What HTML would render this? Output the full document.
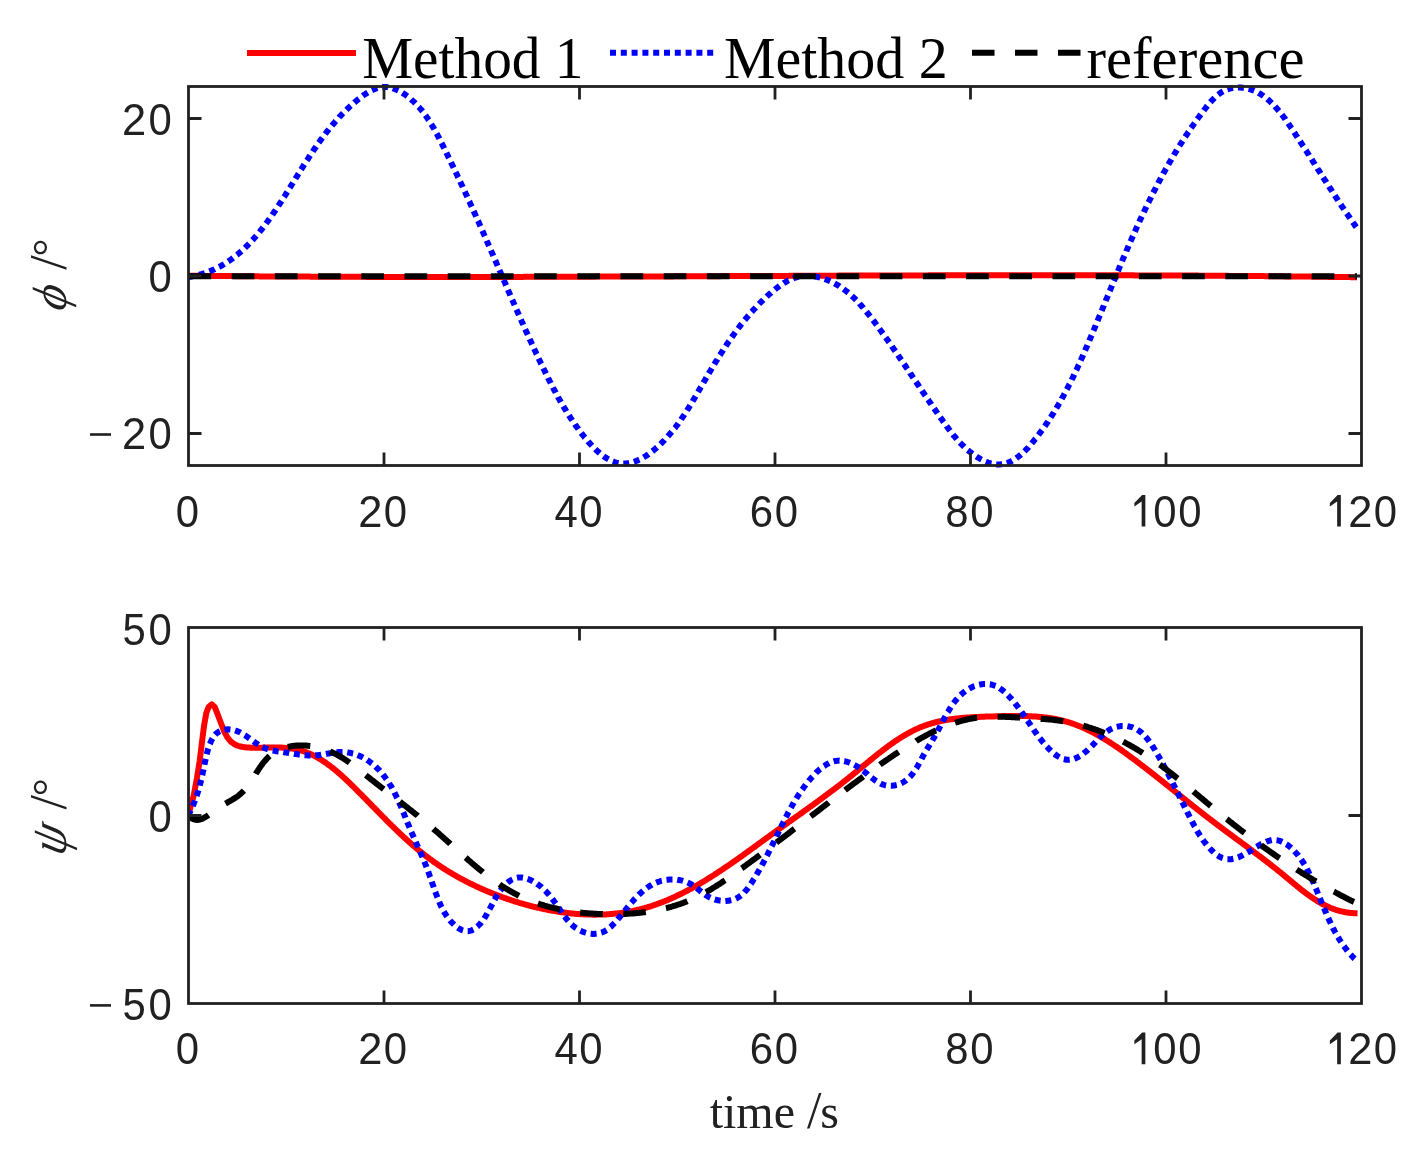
<!DOCTYPE html>
<html><head><meta charset="utf-8"><style>
html,body{margin:0;padding:0;background:#fff;overflow:hidden}
svg{display:block;will-change:transform}
.tk{font-family:"Liberation Sans",sans-serif;font-size:44.8px;fill:#212121}
.lab{font-family:"Liberation Serif",serif;font-size:48px;fill:#212121}
.leg{font-family:"Liberation Serif",serif;font-size:59.2px;fill:#000}
</style></head><body>
<svg width="1424" height="1149" viewBox="0 0 1424 1149">
<rect width="1424" height="1149" fill="#fff"/>
<clipPath id="ct"><rect x="188.5" y="83.5" width="1173.0" height="385.0"/></clipPath>
<clipPath id="cb"><rect x="188.5" y="624.5" width="1173.0" height="382.0"/></clipPath>
<path d="M188.5,275.7L189.5,275.7L190.5,275.7L191.5,275.8L192.5,275.8L193.5,275.8L194.5,275.8L195.5,275.8L196.5,275.8L197.5,275.8L198.5,275.8L199.5,275.8L200.5,275.9L201.5,275.9L202.5,275.9L203.5,275.9L204.5,275.9L205.5,275.9L206.5,275.9L207.5,275.9L208.5,275.9L209.5,275.9L210.5,275.9L211.5,276.0L212.5,276.0L213.5,276.0L214.5,276.0L215.5,276.0L216.5,276.0L217.5,276.0L218.5,276.0L219.5,276.0L220.5,276.0L221.5,276.1L222.5,276.1L223.5,276.1L224.5,276.1L225.6,276.1L226.6,276.1L227.6,276.1L228.6,276.1L229.6,276.1L230.6,276.1L231.6,276.1L232.6,276.1L233.6,276.2L234.6,276.2L235.6,276.2L236.6,276.2L237.6,276.2L238.6,276.2L239.6,276.2L240.6,276.2L241.6,276.2L242.6,276.2L243.6,276.2L244.6,276.2L245.6,276.2L246.6,276.3L247.6,276.3L248.6,276.3L249.6,276.3L250.6,276.3L251.6,276.3L252.6,276.3L253.6,276.3L254.6,276.3L255.6,276.3L256.6,276.3L257.6,276.3L258.6,276.3L259.6,276.4L260.6,276.4L261.6,276.4L262.6,276.4L263.6,276.4L264.6,276.4L265.6,276.4L266.6,276.4L267.6,276.4L268.6,276.4L269.6,276.4L270.6,276.4L271.6,276.4L272.6,276.4L273.6,276.4L274.6,276.5L275.6,276.5L276.6,276.5L277.6,276.5L278.6,276.5L279.6,276.5L280.6,276.5L281.6,276.5L282.6,276.5L283.6,276.5L284.6,276.5L285.6,276.5L286.6,276.5L287.6,276.5L288.6,276.5L289.6,276.5L290.6,276.5L291.6,276.6L292.6,276.6L293.6,276.6L294.6,276.6L295.6,276.6L296.6,276.6L297.6,276.6L298.6,276.6L299.6,276.6L300.6,276.6L301.6,276.6L302.6,276.6L303.6,276.6L304.7,276.6L305.7,276.6L306.7,276.6L307.7,276.6L308.7,276.6L309.7,276.6L310.7,276.7L311.7,276.7L312.7,276.7L313.7,276.7L314.7,276.7L315.7,276.7L316.7,276.7L317.7,276.7L318.7,276.7L319.7,276.7L320.7,276.7L321.7,276.7L322.7,276.7L323.7,276.7L324.7,276.7L325.7,276.7L326.7,276.7L327.7,276.7L328.7,276.7L329.7,276.7L330.7,276.7L331.7,276.7L332.7,276.7L333.7,276.7L334.7,276.8L335.7,276.8L336.7,276.8L337.7,276.8L338.7,276.8L339.7,276.8L340.7,276.8L341.7,276.8L342.7,276.8L343.7,276.8L344.7,276.8L345.7,276.8L346.7,276.8L347.7,276.8L348.7,276.8L349.7,276.8L350.7,276.8L351.7,276.8L352.7,276.8L353.7,276.8L354.7,276.8L355.7,276.8L356.7,276.8L357.7,276.8L358.7,276.8L359.7,276.8L360.7,276.8L361.7,276.8L362.7,276.8L363.7,276.8L364.7,276.8L365.7,276.8L366.7,276.9L367.7,276.9L368.7,276.9L369.7,276.9L370.7,276.9L371.7,276.9L372.7,276.9L373.7,276.9L374.7,276.9L375.7,276.9L376.7,276.9L377.7,276.9L378.7,276.9L379.7,276.9L380.7,276.9L381.8,276.9L382.8,276.9L383.8,276.9L384.8,276.9L385.8,276.9L386.8,276.9L387.8,276.9L388.8,276.9L389.8,276.9L390.8,276.9L391.8,276.9L392.8,276.9L393.8,276.9L394.8,276.9L395.8,276.9L396.8,276.9L397.8,276.9L398.8,276.9L399.8,276.9L400.8,276.9L401.8,276.9L402.8,276.9L403.8,276.9L404.8,276.9L405.8,276.9L406.8,276.9L407.8,276.9L408.8,276.9L409.8,276.9L410.8,276.9L411.8,276.9L412.8,276.9L413.8,276.9L414.8,276.9L415.8,276.9L416.8,276.9L417.8,276.9L418.8,276.9L419.8,276.9L420.8,276.9L421.8,276.9L422.8,276.9L423.8,276.9L424.8,276.9L425.8,276.9L426.8,276.9L427.8,276.9L428.8,276.9L429.8,276.9L430.8,276.9L431.8,276.9L432.8,276.9L433.8,276.9L434.8,276.9L435.8,276.9L436.8,276.9L437.8,276.9L438.8,276.9L439.8,276.9L440.8,276.9L441.8,276.9L442.8,276.9L443.8,276.9L444.8,276.9L445.8,276.9L446.8,276.9L447.8,276.9L448.8,276.9L449.8,276.9L450.8,276.9L451.8,276.9L452.8,276.9L453.8,276.9L454.8,276.9L455.8,276.9L456.8,276.9L457.8,276.9L458.9,276.9L459.9,276.9L460.9,276.9L461.9,276.9L462.9,276.9L463.9,276.9L464.9,276.9L465.9,276.9L466.9,276.9L467.9,276.9L468.9,276.9L469.9,276.9L470.9,276.9L471.9,276.9L472.9,276.9L473.9,276.9L474.9,276.9L475.9,276.9L476.9,276.9L477.9,276.9L478.9,276.9L479.9,276.9L480.9,276.9L481.9,276.9L482.9,276.9L483.9,276.9L484.9,276.9L485.9,276.9L486.9,276.9L487.9,276.9L488.9,276.9L489.9,276.9L490.9,276.9L491.9,276.9L492.9,276.9L493.9,276.9L494.9,276.9L495.9,276.9L496.9,276.9L497.9,276.9L498.9,276.9L499.9,276.9L500.9,276.9L501.9,276.9L502.9,276.9L503.9,276.9L504.9,276.9L505.9,276.9L506.9,276.9L507.9,276.9L508.9,276.9L509.9,276.9L510.9,276.9L511.9,276.9L512.9,276.9L513.9,276.9L514.9,276.9L515.9,276.9L516.9,276.9L517.9,276.9L518.9,276.9L519.9,276.9L520.9,276.9L521.9,276.9L522.9,276.9L523.9,276.8L524.9,276.8L525.9,276.8L526.9,276.8L527.9,276.8L528.9,276.8L529.9,276.8L530.9,276.8L531.9,276.8L532.9,276.8L533.9,276.8L534.9,276.8L535.9,276.8L537.0,276.8L538.0,276.8L539.0,276.8L540.0,276.8L541.0,276.8L542.0,276.8L543.0,276.8L544.0,276.8L545.0,276.8L546.0,276.8L547.0,276.8L548.0,276.8L549.0,276.8L550.0,276.8L551.0,276.8L552.0,276.8L553.0,276.8L554.0,276.8L555.0,276.8L556.0,276.8L557.0,276.8L558.0,276.8L559.0,276.8L560.0,276.8L561.0,276.8L562.0,276.8L563.0,276.8L564.0,276.7L565.0,276.7L566.0,276.7L567.0,276.7L568.0,276.7L569.0,276.7L570.0,276.7L571.0,276.7L572.0,276.7L573.0,276.7L574.0,276.7L575.0,276.7L576.0,276.7L577.0,276.7L578.0,276.7L579.0,276.7L580.0,276.7L581.0,276.7L582.0,276.7L583.0,276.7L584.0,276.7L585.0,276.7L586.0,276.7L587.0,276.7L588.0,276.7L589.0,276.7L590.0,276.7L591.0,276.7L592.0,276.7L593.0,276.7L594.0,276.7L595.0,276.7L596.0,276.6L597.0,276.6L598.0,276.6L599.0,276.6L600.0,276.6L601.0,276.6L602.0,276.6L603.0,276.6L604.0,276.6L605.0,276.6L606.0,276.6L607.0,276.6L608.0,276.6L609.0,276.6L610.0,276.6L611.0,276.6L612.0,276.6L613.0,276.6L614.1,276.6L615.1,276.6L616.1,276.6L617.1,276.6L618.1,276.6L619.1,276.6L620.1,276.6L621.1,276.6L622.1,276.6L623.1,276.6L624.1,276.5L625.1,276.5L626.1,276.5L627.1,276.5L628.1,276.5L629.1,276.5L630.1,276.5L631.1,276.5L632.1,276.5L633.1,276.5L634.1,276.5L635.1,276.5L636.1,276.5L637.1,276.5L638.1,276.5L639.1,276.5L640.1,276.5L641.1,276.5L642.1,276.5L643.1,276.5L644.1,276.5L645.1,276.5L646.1,276.5L647.1,276.5L648.1,276.5L649.1,276.5L650.1,276.4L651.1,276.4L652.1,276.4L653.1,276.4L654.1,276.4L655.1,276.4L656.1,276.4L657.1,276.4L658.1,276.4L659.1,276.4L660.1,276.4L661.1,276.4L662.1,276.4L663.1,276.4L664.1,276.4L665.1,276.4L666.1,276.4L667.1,276.4L668.1,276.4L669.1,276.4L670.1,276.4L671.1,276.4L672.1,276.4L673.1,276.4L674.1,276.3L675.1,276.3L676.1,276.3L677.1,276.3L678.1,276.3L679.1,276.3L680.1,276.3L681.1,276.3L682.1,276.3L683.1,276.3L684.1,276.3L685.1,276.3L686.1,276.3L687.1,276.3L688.1,276.3L689.1,276.3L690.1,276.3L691.1,276.3L692.2,276.3L693.2,276.3L694.2,276.3L695.2,276.3L696.2,276.3L697.2,276.3L698.2,276.2L699.2,276.2L700.2,276.2L701.2,276.2L702.2,276.2L703.2,276.2L704.2,276.2L705.2,276.2L706.2,276.2L707.2,276.2L708.2,276.2L709.2,276.2L710.2,276.2L711.2,276.2L712.2,276.2L713.2,276.2L714.2,276.2L715.2,276.2L716.2,276.2L717.2,276.2L718.2,276.2L719.2,276.2L720.2,276.2L721.2,276.1L722.2,276.1L723.2,276.1L724.2,276.1L725.2,276.1L726.2,276.1L727.2,276.1L728.2,276.1L729.2,276.1L730.2,276.1L731.2,276.1L732.2,276.1L733.2,276.1L734.2,276.1L735.2,276.1L736.2,276.1L737.2,276.1L738.2,276.1L739.2,276.1L740.2,276.1L741.2,276.1L742.2,276.1L743.2,276.1L744.2,276.0L745.2,276.0L746.2,276.0L747.2,276.0L748.2,276.0L749.2,276.0L750.2,276.0L751.2,276.0L752.2,276.0L753.2,276.0L754.2,276.0L755.2,276.0L756.2,276.0L757.2,276.0L758.2,276.0L759.2,276.0L760.2,276.0L761.2,276.0L762.2,276.0L763.2,276.0L764.2,276.0L765.2,276.0L766.2,275.9L767.2,275.9L768.2,275.9L769.2,275.9L770.3,275.9L771.3,275.9L772.3,275.9L773.3,275.9L774.3,275.9L775.3,275.9L776.3,275.9L777.3,275.9L778.3,275.9L779.3,275.9L780.3,275.9L781.3,275.9L782.3,275.9L783.3,275.9L784.3,275.9L785.3,275.9L786.3,275.9L787.3,275.9L788.3,275.9L789.3,275.8L790.3,275.8L791.3,275.8L792.3,275.8L793.3,275.8L794.3,275.8L795.3,275.8L796.3,275.8L797.3,275.8L798.3,275.8L799.3,275.8L800.3,275.8L801.3,275.8L802.3,275.8L803.3,275.8L804.3,275.8L805.3,275.8L806.3,275.8L807.3,275.8L808.3,275.8L809.3,275.8L810.3,275.8L811.3,275.8L812.3,275.8L813.3,275.7L814.3,275.7L815.3,275.7L816.3,275.7L817.3,275.7L818.3,275.7L819.3,275.7L820.3,275.7L821.3,275.7L822.3,275.7L823.3,275.7L824.3,275.7L825.3,275.7L826.3,275.7L827.3,275.7L828.3,275.7L829.3,275.7L830.3,275.7L831.3,275.7L832.3,275.7L833.3,275.7L834.3,275.7L835.3,275.7L836.3,275.7L837.3,275.7L838.3,275.6L839.3,275.6L840.3,275.6L841.3,275.6L842.3,275.6L843.3,275.6L844.3,275.6L845.3,275.6L846.3,275.6L847.4,275.6L848.4,275.6L849.4,275.6L850.4,275.6L851.4,275.6L852.4,275.6L853.4,275.6L854.4,275.6L855.4,275.6L856.4,275.6L857.4,275.6L858.4,275.6L859.4,275.6L860.4,275.6L861.4,275.6L862.4,275.6L863.4,275.6L864.4,275.5L865.4,275.5L866.4,275.5L867.4,275.5L868.4,275.5L869.4,275.5L870.4,275.5L871.4,275.5L872.4,275.5L873.4,275.5L874.4,275.5L875.4,275.5L876.4,275.5L877.4,275.5L878.4,275.5L879.4,275.5L880.4,275.5L881.4,275.5L882.4,275.5L883.4,275.5L884.4,275.5L885.4,275.5L886.4,275.5L887.4,275.5L888.4,275.5L889.4,275.5L890.4,275.5L891.4,275.5L892.4,275.5L893.4,275.5L894.4,275.4L895.4,275.4L896.4,275.4L897.4,275.4L898.4,275.4L899.4,275.4L900.4,275.4L901.4,275.4L902.4,275.4L903.4,275.4L904.4,275.4L905.4,275.4L906.4,275.4L907.4,275.4L908.4,275.4L909.4,275.4L910.4,275.4L911.4,275.4L912.4,275.4L913.4,275.4L914.4,275.4L915.4,275.4L916.4,275.4L917.4,275.4L918.4,275.4L919.4,275.4L920.4,275.4L921.4,275.4L922.4,275.4L923.4,275.4L924.4,275.4L925.5,275.4L926.5,275.4L927.5,275.4L928.5,275.3L929.5,275.3L930.5,275.3L931.5,275.3L932.5,275.3L933.5,275.3L934.5,275.3L935.5,275.3L936.5,275.3L937.5,275.3L938.5,275.3L939.5,275.3L940.5,275.3L941.5,275.3L942.5,275.3L943.5,275.3L944.5,275.3L945.5,275.3L946.5,275.3L947.5,275.3L948.5,275.3L949.5,275.3L950.5,275.3L951.5,275.3L952.5,275.3L953.5,275.3L954.5,275.3L955.5,275.3L956.5,275.3L957.5,275.3L958.5,275.3L959.5,275.3L960.5,275.3L961.5,275.3L962.5,275.3L963.5,275.3L964.5,275.3L965.5,275.3L966.5,275.3L967.5,275.3L968.5,275.3L969.5,275.3L970.5,275.3L971.5,275.3L972.5,275.3L973.5,275.3L974.5,275.2L975.5,275.2L976.5,275.2L977.5,275.2L978.5,275.2L979.5,275.2L980.5,275.2L981.5,275.2L982.5,275.2L983.5,275.2L984.5,275.2L985.5,275.2L986.5,275.2L987.5,275.2L988.5,275.2L989.5,275.2L990.5,275.2L991.5,275.2L992.5,275.2L993.5,275.2L994.5,275.2L995.5,275.2L996.5,275.2L997.5,275.2L998.5,275.2L999.5,275.2L1000.5,275.2L1001.5,275.2L1002.6,275.2L1003.6,275.2L1004.6,275.2L1005.6,275.2L1006.6,275.2L1007.6,275.2L1008.6,275.2L1009.6,275.2L1010.6,275.2L1011.6,275.2L1012.6,275.2L1013.6,275.2L1014.6,275.2L1015.6,275.2L1016.6,275.2L1017.6,275.2L1018.6,275.2L1019.6,275.2L1020.6,275.2L1021.6,275.2L1022.6,275.2L1023.6,275.2L1024.6,275.2L1025.6,275.2L1026.6,275.2L1027.6,275.2L1028.6,275.2L1029.6,275.2L1030.6,275.2L1031.6,275.2L1032.6,275.2L1033.6,275.2L1034.6,275.2L1035.6,275.2L1036.6,275.2L1037.6,275.2L1038.6,275.2L1039.6,275.2L1040.6,275.2L1041.6,275.2L1042.6,275.2L1043.6,275.2L1044.6,275.2L1045.6,275.2L1046.6,275.2L1047.6,275.2L1048.6,275.2L1049.6,275.2L1050.6,275.2L1051.6,275.2L1052.6,275.2L1053.6,275.2L1054.6,275.2L1055.6,275.2L1056.6,275.2L1057.6,275.2L1058.6,275.2L1059.6,275.2L1060.6,275.2L1061.6,275.2L1062.6,275.2L1063.6,275.2L1064.6,275.2L1065.6,275.2L1066.6,275.2L1067.6,275.2L1068.6,275.2L1069.6,275.2L1070.6,275.2L1071.6,275.2L1072.6,275.2L1073.6,275.2L1074.6,275.2L1075.6,275.2L1076.6,275.2L1077.6,275.2L1078.6,275.2L1079.6,275.2L1080.7,275.2L1081.7,275.2L1082.7,275.2L1083.7,275.2L1084.7,275.2L1085.7,275.2L1086.7,275.2L1087.7,275.2L1088.7,275.2L1089.7,275.2L1090.7,275.2L1091.7,275.2L1092.7,275.2L1093.7,275.2L1094.7,275.2L1095.7,275.2L1096.7,275.3L1097.7,275.3L1098.7,275.3L1099.7,275.3L1100.7,275.3L1101.7,275.3L1102.7,275.3L1103.7,275.3L1104.7,275.3L1105.7,275.3L1106.7,275.3L1107.7,275.3L1108.7,275.3L1109.7,275.3L1110.7,275.3L1111.7,275.3L1112.7,275.3L1113.7,275.3L1114.7,275.3L1115.7,275.3L1116.7,275.3L1117.7,275.3L1118.7,275.3L1119.7,275.3L1120.7,275.3L1121.7,275.3L1122.7,275.3L1123.7,275.3L1124.7,275.3L1125.7,275.3L1126.7,275.3L1127.7,275.3L1128.7,275.3L1129.7,275.3L1130.7,275.3L1131.7,275.3L1132.7,275.3L1133.7,275.3L1134.7,275.4L1135.7,275.4L1136.7,275.4L1137.7,275.4L1138.7,275.4L1139.7,275.4L1140.7,275.4L1141.7,275.4L1142.7,275.4L1143.7,275.4L1144.7,275.4L1145.7,275.4L1146.7,275.4L1147.7,275.4L1148.7,275.4L1149.7,275.4L1150.7,275.4L1151.7,275.4L1152.7,275.4L1153.7,275.4L1154.7,275.4L1155.7,275.4L1156.7,275.4L1157.8,275.4L1158.8,275.4L1159.8,275.4L1160.8,275.5L1161.8,275.5L1162.8,275.5L1163.8,275.5L1164.8,275.5L1165.8,275.5L1166.8,275.5L1167.8,275.5L1168.8,275.5L1169.8,275.5L1170.8,275.5L1171.8,275.5L1172.8,275.5L1173.8,275.5L1174.8,275.5L1175.8,275.5L1176.8,275.5L1177.8,275.5L1178.8,275.5L1179.8,275.5L1180.8,275.5L1181.8,275.6L1182.8,275.6L1183.8,275.6L1184.8,275.6L1185.8,275.6L1186.8,275.6L1187.8,275.6L1188.8,275.6L1189.8,275.6L1190.8,275.6L1191.8,275.6L1192.8,275.6L1193.8,275.6L1194.8,275.6L1195.8,275.6L1196.8,275.6L1197.8,275.6L1198.8,275.7L1199.8,275.7L1200.8,275.7L1201.8,275.7L1202.8,275.7L1203.8,275.7L1204.8,275.7L1205.8,275.7L1206.8,275.7L1207.8,275.7L1208.8,275.7L1209.8,275.7L1210.8,275.7L1211.8,275.7L1212.8,275.7L1213.8,275.7L1214.8,275.8L1215.8,275.8L1216.8,275.8L1217.8,275.8L1218.8,275.8L1219.8,275.8L1220.8,275.8L1221.8,275.8L1222.8,275.8L1223.8,275.8L1224.8,275.8L1225.8,275.8L1226.8,275.8L1227.8,275.8L1228.8,275.9L1229.8,275.9L1230.8,275.9L1231.8,275.9L1232.8,275.9L1233.8,275.9L1234.8,275.9L1235.9,275.9L1236.9,275.9L1237.9,275.9L1238.9,275.9L1239.9,275.9L1240.9,275.9L1241.9,276.0L1242.9,276.0L1243.9,276.0L1244.9,276.0L1245.9,276.0L1246.9,276.0L1247.9,276.0L1248.9,276.0L1249.9,276.0L1250.9,276.0L1251.9,276.0L1252.9,276.0L1253.9,276.1L1254.9,276.1L1255.9,276.1L1256.9,276.1L1257.9,276.1L1258.9,276.1L1259.9,276.1L1260.9,276.1L1261.9,276.1L1262.9,276.1L1263.9,276.1L1264.9,276.2L1265.9,276.2L1266.9,276.2L1267.9,276.2L1268.9,276.2L1269.9,276.2L1270.9,276.2L1271.9,276.2L1272.9,276.2L1273.9,276.2L1274.9,276.3L1275.9,276.3L1276.9,276.3L1277.9,276.3L1278.9,276.3L1279.9,276.3L1280.9,276.3L1281.9,276.3L1282.9,276.3L1283.9,276.3L1284.9,276.4L1285.9,276.4L1286.9,276.4L1287.9,276.4L1288.9,276.4L1289.9,276.4L1290.9,276.4L1291.9,276.4L1292.9,276.4L1293.9,276.4L1294.9,276.5L1295.9,276.5L1296.9,276.5L1297.9,276.5L1298.9,276.5L1299.9,276.5L1300.9,276.5L1301.9,276.5L1302.9,276.5L1303.9,276.6L1304.9,276.6L1305.9,276.6L1306.9,276.6L1307.9,276.6L1308.9,276.6L1309.9,276.6L1310.9,276.6L1311.9,276.7L1312.9,276.7L1313.9,276.7L1314.9,276.7L1315.9,276.7L1317.0,276.7L1318.0,276.7L1319.0,276.7L1320.0,276.7L1321.0,276.8L1322.0,276.8L1323.0,276.8L1324.0,276.8L1325.0,276.8L1326.0,276.8L1327.0,276.8L1328.0,276.8L1329.0,276.9L1330.0,276.9L1331.0,276.9L1332.0,276.9L1333.0,276.9L1334.0,276.9L1335.0,276.9L1336.0,277.0L1337.0,277.0L1338.0,277.0L1339.0,277.0L1340.0,277.0L1341.0,277.0L1342.0,277.0L1343.0,277.0L1344.0,277.1L1345.0,277.1L1346.0,277.1L1347.0,277.1L1348.0,277.1L1349.0,277.1L1350.0,277.1L1351.0,277.2L1352.0,277.2L1353.0,277.2L1354.0,277.2L1355.0,277.2L1356.0,277.2L1357.0,277.2" fill="none" stroke="#ff0000" stroke-width="6" stroke-linejoin="round" clip-path="url(#ct)"/>
<path d="M188.6,277.0L189.6,276.9L190.6,276.7L191.5,276.5L192.5,276.3L193.5,276.1L194.5,275.9L195.5,275.7L196.4,275.5L197.4,275.2L198.4,275.0L199.3,274.7L200.3,274.5L201.3,274.2L202.2,273.9L203.2,273.6L204.1,273.3L205.1,273.0L206.0,272.7L207.0,272.3L207.9,272.0L208.8,271.6L209.8,271.2L210.7,270.9L211.6,270.5L212.5,270.1L213.4,269.7L214.4,269.3L215.3,268.8L216.2,268.4L217.1,267.9L218.0,267.5L218.8,267.0L219.7,266.6L220.6,266.1L221.5,265.6L222.3,265.1L223.2,264.6L224.1,264.1L224.9,263.6L225.8,263.0L226.6,262.5L227.4,261.9L228.3,261.4L229.1,260.8L229.9,260.3L230.8,259.7L231.6,259.1L232.4,258.5L233.2,257.9L234.0,257.3L234.8,256.7L235.5,256.1L236.3,255.4L237.1,254.8L237.9,254.2L238.6,253.5L239.4,252.9L240.2,252.2L240.9,251.6L241.7,250.9L242.4,250.2L243.1,249.6L243.9,248.9L244.6,248.2L245.3,247.5L246.0,246.8L246.8,246.1L247.5,245.4L248.2,244.7L248.9,244.0L249.6,243.3L250.3,242.5L250.9,241.8L251.6,241.1L252.3,240.3L253.0,239.6L253.6,238.8L254.3,238.1L255.0,237.3L255.6,236.6L256.3,235.8L256.9,235.1L257.6,234.3L258.2,233.5L258.9,232.8L259.5,232.0L260.1,231.2L260.7,230.4L261.4,229.7L262.0,228.9L262.6,228.1L263.2,227.3L263.8,226.5L264.4,225.7L265.0,224.9L265.6,224.1L266.2,223.3L266.8,222.5L267.4,221.7L268.0,220.9L268.6,220.1L269.2,219.3L269.8,218.5L270.4,217.6L270.9,216.8L271.5,216.0L272.1,215.2L272.6,214.4L273.2,213.5L273.8,212.7L274.3,211.9L274.9,211.1L275.5,210.2L276.0,209.4L276.6,208.6L277.1,207.7L277.7,206.9L278.2,206.1L278.8,205.2L279.3,204.4L279.9,203.5L280.4,202.7L281.0,201.9L281.5,201.0L282.0,200.2L282.6,199.3L283.1,198.5L283.6,197.6L284.2,196.8L284.7,196.0L285.3,195.1L285.8,194.3L286.3,193.4L286.8,192.6L287.4,191.7L287.9,190.9L288.4,190.0L289.0,189.2L289.5,188.3L290.0,187.5L290.5,186.6L291.1,185.8L291.6,184.9L292.1,184.1L292.7,183.2L293.2,182.4L293.7,181.5L294.2,180.7L294.8,179.8L295.3,179.0L295.8,178.1L296.3,177.3L296.9,176.4L297.4,175.6L297.9,174.7L298.4,173.9L299.0,173.0L299.5,172.2L300.0,171.3L300.6,170.5L301.1,169.6L301.6,168.8L302.1,167.9L302.7,167.1L303.2,166.2L303.7,165.4L304.3,164.5L304.8,163.7L305.4,162.8L305.9,162.0L306.4,161.2L307.0,160.3L307.5,159.5L308.1,158.6L308.6,157.8L309.1,156.9L309.7,156.1L310.2,155.3L310.8,154.4L311.3,153.6L311.9,152.8L312.5,151.9L313.0,151.1L313.6,150.3L314.1,149.4L314.7,148.6L315.3,147.8L315.8,147.0L316.4,146.1L317.0,145.3L317.5,144.5L318.1,143.7L318.7,142.9L319.3,142.1L319.9,141.2L320.4,140.4L321.0,139.6L321.6,138.8L322.2,138.0L322.8,137.2L323.4,136.4L324.0,135.6L324.6,134.8L325.2,134.0L325.8,133.2L326.4,132.4L327.0,131.6L327.7,130.8L328.3,130.1L328.9,129.3L329.5,128.5L330.2,127.7L330.8,126.9L331.4,126.2L332.1,125.4L332.7,124.6L333.4,123.9L334.0,123.1L334.7,122.4L335.3,121.6L336.0,120.8L336.6,120.1L337.3,119.4L338.0,118.6L338.7,117.9L339.3,117.1L340.0,116.4L340.7,115.7L341.4,114.9L342.1,114.2L342.8,113.5L343.5,112.8L344.2,112.1L344.9,111.4L345.6,110.7L346.3,110.0L347.0,109.3L347.8,108.6L348.5,107.9L349.2,107.2L349.9,106.5L350.7,105.8L351.4,105.2L352.2,104.5L352.9,103.8L353.7,103.2L354.4,102.5L355.2,101.9L356.0,101.2L356.7,100.6L357.5,100.0L358.3,99.3L359.1,98.7L359.8,98.1L360.6,97.5L361.4,96.9L362.2,96.3L363.0,95.7L363.8,95.1L364.7,94.5L365.5,94.0L366.3,93.4L367.2,92.9L368.0,92.4L368.9,91.9L369.8,91.4L370.7,90.9L371.6,90.4L372.5,90.0L373.4,89.6L374.3,89.2L375.2,88.8L376.2,88.5L377.1,88.2L378.1,87.9L379.0,87.7L380.0,87.5L381.0,87.3L382.0,87.2L383.0,87.1L384.0,87.0L385.0,87.0L386.0,87.0L387.0,87.1L388.0,87.2L389.0,87.4L390.0,87.6L390.9,87.8L391.9,88.1L392.9,88.3L393.8,88.7L394.7,89.0L395.7,89.4L396.6,89.8L397.5,90.2L398.4,90.6L399.3,91.1L400.2,91.5L401.1,92.0L401.9,92.5L402.8,93.1L403.6,93.6L404.4,94.1L405.3,94.7L406.1,95.3L406.9,95.9L407.7,96.5L408.5,97.1L409.3,97.7L410.0,98.4L410.8,99.0L411.5,99.7L412.3,100.4L413.0,101.0L413.7,101.7L414.5,102.4L415.2,103.1L415.9,103.8L416.6,104.6L417.3,105.3L417.9,106.0L418.6,106.8L419.3,107.5L419.9,108.3L420.6,109.0L421.2,109.8L421.9,110.6L422.5,111.4L423.1,112.1L423.7,112.9L424.3,113.7L424.9,114.5L425.5,115.3L426.1,116.2L426.6,117.0L427.2,117.8L427.8,118.6L428.3,119.5L428.9,120.3L429.4,121.1L430.0,122.0L430.5,122.8L431.0,123.7L431.5,124.5L432.0,125.4L432.6,126.3L433.1,127.1L433.6,128.0L434.1,128.9L434.5,129.7L435.0,130.6L435.5,131.5L436.0,132.4L436.5,133.2L437.0,134.1L437.4,135.0L437.9,135.9L438.4,136.8L438.8,137.7L439.3,138.5L439.7,139.4L440.2,140.3L440.6,141.2L441.1,142.1L441.5,143.0L442.0,143.9L442.4,144.8L442.9,145.7L443.3,146.6L443.8,147.5L444.2,148.4L444.7,149.3L445.1,150.2L445.5,151.1L446.0,152.0L446.4,152.9L446.9,153.8L447.3,154.7L447.8,155.6L448.2,156.5L448.6,157.4L449.1,158.3L449.5,159.2L449.9,160.1L450.4,161.0L450.8,161.9L451.2,162.8L451.7,163.7L452.1,164.6L452.5,165.5L453.0,166.4L453.4,167.3L453.8,168.2L454.3,169.1L454.7,170.0L455.1,170.9L455.6,171.8L456.0,172.7L456.4,173.6L456.9,174.5L457.3,175.4L457.7,176.3L458.1,177.2L458.6,178.1L459.0,179.0L459.4,179.9L459.8,180.8L460.3,181.7L460.7,182.7L461.1,183.6L461.5,184.5L461.9,185.4L462.4,186.3L462.8,187.2L463.2,188.1L463.6,189.0L464.0,189.9L464.5,190.8L464.9,191.7L465.3,192.6L465.7,193.5L466.1,194.5L466.6,195.4L467.0,196.3L467.4,197.2L467.8,198.1L468.2,199.0L468.6,199.9L469.0,200.8L469.5,201.7L469.9,202.7L470.3,203.6L470.7,204.5L471.1,205.4L471.5,206.3L471.9,207.2L472.3,208.1L472.8,209.0L473.2,210.0L473.6,210.9L474.0,211.8L474.4,212.7L474.8,213.6L475.2,214.5L475.6,215.4L476.0,216.3L476.4,217.3L476.8,218.2L477.2,219.1L477.6,220.0L478.1,220.9L478.5,221.8L478.9,222.7L479.3,223.7L479.7,224.6L480.1,225.5L480.5,226.4L480.9,227.3L481.3,228.2L481.7,229.2L482.1,230.1L482.5,231.0L482.9,231.9L483.3,232.8L483.7,233.7L484.1,234.6L484.5,235.6L484.9,236.5L485.3,237.4L485.7,238.3L486.1,239.2L486.5,240.1L486.9,241.1L487.3,242.0L487.7,242.9L488.1,243.8L488.5,244.7L488.9,245.7L489.3,246.6L489.7,247.5L490.1,248.4L490.5,249.3L490.9,250.2L491.3,251.2L491.7,252.1L492.1,253.0L492.5,253.9L492.9,254.8L493.3,255.8L493.7,256.7L494.1,257.6L494.5,258.5L494.9,259.4L495.3,260.3L495.7,261.3L496.1,262.2L496.5,263.1L496.8,264.0L497.2,264.9L497.6,265.9L498.0,266.8L498.4,267.7L498.8,268.6L499.2,269.5L499.6,270.5L500.0,271.4L500.4,272.3L500.8,273.2L501.2,274.1L501.6,275.0L502.0,276.0L502.4,276.9L502.8,277.8L503.2,278.7L503.6,279.6L504.0,280.6L504.4,281.5L504.8,282.4L505.2,283.3L505.6,284.2L505.9,285.2L506.3,286.1L506.7,287.0L507.1,287.9L507.5,288.8L507.9,289.7L508.3,290.7L508.7,291.6L509.1,292.5L509.5,293.4L509.9,294.3L510.3,295.3L510.7,296.2L511.1,297.1L511.5,298.0L511.9,298.9L512.3,299.8L512.7,300.8L513.1,301.7L513.5,302.6L513.9,303.5L514.3,304.4L514.7,305.4L515.1,306.3L515.5,307.2L515.9,308.1L516.3,309.0L516.7,309.9L517.1,310.9L517.5,311.8L517.9,312.7L518.3,313.6L518.7,314.5L519.1,315.4L519.5,316.4L519.9,317.3L520.3,318.2L520.7,319.1L521.1,320.0L521.5,320.9L521.9,321.8L522.4,322.8L522.8,323.7L523.2,324.6L523.6,325.5L524.0,326.4L524.4,327.3L524.8,328.2L525.2,329.2L525.6,330.1L526.0,331.0L526.4,331.9L526.8,332.8L527.3,333.7L527.7,334.6L528.1,335.5L528.5,336.5L528.9,337.4L529.3,338.3L529.7,339.2L530.1,340.1L530.6,341.0L531.0,341.9L531.4,342.8L531.8,343.7L532.2,344.6L532.6,345.6L533.1,346.5L533.5,347.4L533.9,348.3L534.3,349.2L534.7,350.1L535.2,351.0L535.6,351.9L536.0,352.8L536.4,353.7L536.9,354.6L537.3,355.5L537.7,356.4L538.1,357.3L538.6,358.3L539.0,359.2L539.4,360.1L539.8,361.0L540.3,361.9L540.7,362.8L541.1,363.7L541.6,364.6L542.0,365.5L542.4,366.4L542.9,367.3L543.3,368.2L543.7,369.1L544.2,370.0L544.6,370.9L545.1,371.8L545.5,372.7L545.9,373.6L546.4,374.5L546.8,375.4L547.3,376.3L547.7,377.2L548.1,378.1L548.6,379.0L549.0,379.9L549.5,380.7L549.9,381.6L550.4,382.5L550.8,383.4L551.3,384.3L551.8,385.2L552.2,386.1L552.7,387.0L553.1,387.9L553.6,388.8L554.1,389.6L554.5,390.5L555.0,391.4L555.5,392.3L555.9,393.2L556.4,394.1L556.9,394.9L557.4,395.8L557.9,396.7L558.3,397.6L558.8,398.4L559.3,399.3L559.8,400.2L560.3,401.1L560.8,401.9L561.3,402.8L561.8,403.7L562.3,404.5L562.8,405.4L563.3,406.2L563.8,407.1L564.3,408.0L564.9,408.8L565.4,409.7L565.9,410.5L566.4,411.4L567.0,412.2L567.5,413.1L568.0,413.9L568.6,414.8L569.1,415.6L569.7,416.4L570.2,417.3L570.7,418.1L571.3,419.0L571.9,419.8L572.4,420.6L573.0,421.5L573.5,422.3L574.1,423.1L574.7,423.9L575.2,424.7L575.8,425.6L576.4,426.4L577.0,427.2L577.6,428.0L578.2,428.8L578.7,429.6L579.3,430.4L579.9,431.2L580.5,432.0L581.1,432.8L581.7,433.6L582.4,434.4L583.0,435.2L583.6,436.0L584.2,436.8L584.8,437.6L585.5,438.3L586.1,439.1L586.7,439.9L587.4,440.6L588.0,441.4L588.7,442.2L589.4,442.9L590.0,443.7L590.7,444.4L591.4,445.1L592.1,445.9L592.7,446.6L593.4,447.3L594.1,448.0L594.9,448.7L595.6,449.4L596.3,450.1L597.0,450.8L597.8,451.5L598.5,452.1L599.3,452.8L600.0,453.4L600.8,454.1L601.6,454.7L602.4,455.3L603.2,455.9L604.0,456.5L604.8,457.1L605.7,457.6L606.5,458.1L607.3,458.7L608.2,459.2L609.1,459.7L610.0,460.1L610.9,460.6L611.8,461.0L612.7,461.4L613.6,461.7L614.6,462.1L615.5,462.4L616.5,462.7L617.5,462.9L618.4,463.1L619.4,463.3L620.4,463.4L621.4,463.5L622.4,463.6L623.4,463.6L624.4,463.6L625.4,463.5L626.4,463.4L627.4,463.3L628.4,463.2L629.4,463.0L630.4,462.8L631.3,462.6L632.3,462.3L633.3,462.0L634.2,461.7L635.1,461.4L636.1,461.0L637.0,460.7L637.9,460.3L638.8,459.8L639.7,459.4L640.6,459.0L641.5,458.5L642.4,458.0L643.3,457.5L644.1,457.0L645.0,456.5L645.8,456.0L646.7,455.4L647.5,454.9L648.3,454.3L649.1,453.7L650.0,453.1L650.8,452.5L651.5,451.9L652.3,451.3L653.1,450.7L653.9,450.0L654.7,449.4L655.4,448.8L656.2,448.1L656.9,447.4L657.7,446.8L658.4,446.1L659.1,445.4L659.9,444.7L660.6,444.0L661.3,443.3L662.0,442.6L662.7,441.9L663.4,441.2L664.1,440.5L664.8,439.7L665.5,439.0L666.2,438.3L666.8,437.5L667.5,436.8L668.2,436.0L668.8,435.3L669.5,434.5L670.1,433.8L670.8,433.0L671.4,432.2L672.0,431.5L672.7,430.7L673.3,429.9L673.9,429.1L674.5,428.3L675.2,427.6L675.8,426.8L676.4,426.0L677.0,425.2L677.6,424.4L678.2,423.6L678.8,422.7L679.3,421.9L679.9,421.1L680.5,420.3L681.1,419.5L681.6,418.7L682.2,417.8L682.8,417.0L683.3,416.2L683.9,415.3L684.4,414.5L685.0,413.7L685.5,412.8L686.1,412.0L686.6,411.1L687.1,410.3L687.7,409.4L688.2,408.6L688.7,407.8L689.3,406.9L689.8,406.0L690.3,405.2L690.8,404.3L691.3,403.5L691.8,402.6L692.4,401.8L692.9,400.9L693.4,400.0L693.9,399.2L694.4,398.3L694.9,397.4L695.4,396.6L695.9,395.7L696.4,394.9L696.9,394.0L697.4,393.1L697.9,392.3L698.4,391.4L698.9,390.5L699.4,389.7L699.9,388.8L700.4,387.9L700.9,387.0L701.4,386.2L701.9,385.3L702.4,384.4L702.9,383.6L703.4,382.7L703.9,381.8L704.4,381.0L704.9,380.1L705.4,379.3L705.9,378.4L706.4,377.5L706.9,376.7L707.4,375.8L707.9,374.9L708.4,374.1L708.9,373.2L709.4,372.3L709.9,371.5L710.5,370.6L711.0,369.8L711.5,368.9L712.0,368.0L712.5,367.2L713.0,366.3L713.5,365.5L714.1,364.6L714.6,363.8L715.1,362.9L715.6,362.0L716.1,361.2L716.7,360.3L717.2,359.5L717.7,358.6L718.2,357.8L718.8,356.9L719.3,356.1L719.8,355.2L720.4,354.4L720.9,353.6L721.4,352.7L722.0,351.9L722.5,351.0L723.1,350.2L723.6,349.3L724.2,348.5L724.7,347.7L725.3,346.8L725.8,346.0L726.4,345.2L726.9,344.3L727.5,343.5L728.0,342.7L728.6,341.8L729.2,341.0L729.7,340.2L730.3,339.4L730.9,338.5L731.4,337.7L732.0,336.9L732.6,336.1L733.2,335.3L733.7,334.5L734.3,333.7L734.9,332.8L735.5,332.0L736.1,331.2L736.7,330.4L737.3,329.6L737.9,328.8L738.5,328.0L739.1,327.2L739.7,326.4L740.3,325.6L740.9,324.8L741.5,324.1L742.2,323.3L742.8,322.5L743.4,321.7L744.0,320.9L744.7,320.1L745.3,319.4L745.9,318.6L746.6,317.8L747.2,317.1L747.9,316.3L748.5,315.5L749.2,314.8L749.8,314.0L750.5,313.3L751.1,312.5L751.8,311.8L752.5,311.0L753.1,310.3L753.8,309.5L754.5,308.8L755.2,308.1L755.9,307.3L756.5,306.6L757.2,305.9L757.9,305.2L758.6,304.4L759.3,303.7L760.0,303.0L760.7,302.3L761.4,301.6L762.2,300.9L762.9,300.2L763.6,299.5L764.3,298.8L765.0,298.1L765.8,297.5L766.5,296.8L767.2,296.1L768.0,295.4L768.7,294.8L769.5,294.1L770.2,293.4L771.0,292.8L771.7,292.1L772.5,291.5L773.3,290.8L774.1,290.2L774.8,289.6L775.6,288.9L776.4,288.3L777.2,287.7L778.0,287.1L778.8,286.5L779.6,285.9L780.4,285.3L781.2,284.8L782.1,284.2L782.9,283.7L783.7,283.1L784.6,282.6L785.5,282.1L786.3,281.6L787.2,281.1L788.1,280.6L789.0,280.2L789.9,279.8L790.8,279.3L791.7,278.9L792.6,278.6L793.6,278.2L794.5,277.9L795.5,277.6L796.4,277.3L797.4,277.0L798.4,276.8L799.3,276.6L800.3,276.4L801.3,276.3L802.3,276.1L803.3,276.0L804.3,275.9L805.3,275.9L806.3,275.9L807.3,275.9L808.3,275.9L809.3,275.9L810.3,276.0L811.3,276.1L812.3,276.2L813.3,276.3L814.3,276.4L815.3,276.6L816.2,276.7L817.2,276.9L818.2,277.2L819.2,277.4L820.2,277.6L821.1,277.9L822.1,278.2L823.0,278.5L824.0,278.8L824.9,279.1L825.9,279.4L826.8,279.8L827.7,280.2L828.7,280.5L829.6,280.9L830.5,281.3L831.4,281.8L832.3,282.2L833.2,282.7L834.1,283.1L835.0,283.6L835.8,284.1L836.7,284.6L837.6,285.1L838.4,285.6L839.3,286.1L840.1,286.7L840.9,287.2L841.8,287.8L842.6,288.4L843.4,289.0L844.2,289.6L845.0,290.2L845.8,290.8L846.6,291.4L847.4,292.0L848.1,292.7L848.9,293.3L849.6,294.0L850.4,294.6L851.1,295.3L851.9,296.0L852.6,296.6L853.3,297.3L854.1,298.0L854.8,298.7L855.5,299.4L856.2,300.1L856.9,300.9L857.6,301.6L858.3,302.3L859.0,303.0L859.6,303.8L860.3,304.5L861.0,305.3L861.6,306.0L862.3,306.8L863.0,307.5L863.6,308.3L864.3,309.0L864.9,309.8L865.5,310.6L866.2,311.3L866.8,312.1L867.4,312.9L868.1,313.7L868.7,314.5L869.3,315.2L869.9,316.0L870.5,316.8L871.1,317.6L871.7,318.4L872.4,319.2L873.0,320.0L873.6,320.8L874.2,321.6L874.8,322.4L875.4,323.2L876.0,324.0L876.5,324.8L877.1,325.6L877.7,326.4L878.3,327.2L878.9,328.0L879.5,328.9L880.1,329.7L880.7,330.5L881.3,331.3L881.8,332.1L882.4,332.9L883.0,333.7L883.6,334.5L884.2,335.3L884.8,336.2L885.3,337.0L885.9,337.8L886.5,338.6L887.1,339.4L887.7,340.2L888.2,341.1L888.8,341.9L889.4,342.7L890.0,343.5L890.5,344.3L891.1,345.2L891.7,346.0L892.2,346.8L892.8,347.6L893.4,348.5L893.9,349.3L894.5,350.1L895.1,350.9L895.7,351.7L896.2,352.6L896.8,353.4L897.3,354.2L897.9,355.0L898.5,355.9L899.0,356.7L899.6,357.5L900.2,358.4L900.7,359.2L901.3,360.0L901.9,360.8L902.4,361.7L903.0,362.5L903.5,363.3L904.1,364.1L904.7,365.0L905.2,365.8L905.8,366.6L906.3,367.5L906.9,368.3L907.5,369.1L908.0,370.0L908.6,370.8L909.1,371.6L909.7,372.4L910.2,373.3L910.8,374.1L911.4,374.9L911.9,375.8L912.5,376.6L913.0,377.4L913.6,378.3L914.2,379.1L914.7,379.9L915.3,380.8L915.8,381.6L916.4,382.4L916.9,383.2L917.5,384.1L918.1,384.9L918.6,385.7L919.2,386.6L919.7,387.4L920.3,388.2L920.9,389.1L921.4,389.9L922.0,390.7L922.5,391.5L923.1,392.4L923.7,393.2L924.2,394.0L924.8,394.9L925.3,395.7L925.9,396.5L926.5,397.3L927.0,398.2L927.6,399.0L928.2,399.8L928.7,400.6L929.3,401.5L929.8,402.3L930.4,403.1L931.0,403.9L931.5,404.8L932.1,405.6L932.7,406.4L933.3,407.2L933.8,408.1L934.4,408.9L935.0,409.7L935.5,410.5L936.1,411.3L936.7,412.2L937.3,413.0L937.8,413.8L938.4,414.6L939.0,415.4L939.6,416.3L940.1,417.1L940.7,417.9L941.3,418.7L941.9,419.5L942.5,420.3L943.0,421.2L943.6,422.0L944.2,422.8L944.8,423.6L945.4,424.4L946.0,425.2L946.5,426.0L947.1,426.8L947.7,427.6L948.3,428.4L948.9,429.2L949.5,430.0L950.1,430.8L950.7,431.6L951.4,432.4L952.0,433.2L952.6,434.0L953.2,434.8L953.8,435.6L954.5,436.3L955.1,437.1L955.8,437.9L956.4,438.6L957.1,439.4L957.7,440.1L958.4,440.9L959.1,441.6L959.7,442.4L960.4,443.1L961.1,443.8L961.8,444.5L962.5,445.2L963.3,445.9L964.0,446.6L964.7,447.3L965.4,448.0L966.2,448.7L966.9,449.3L967.7,450.0L968.5,450.6L969.2,451.3L970.0,451.9L970.8,452.5L971.6,453.1L972.4,453.7L973.2,454.3L974.0,454.9L974.8,455.5L975.6,456.0L976.5,456.6L977.3,457.1L978.2,457.6L979.0,458.2L979.9,458.7L980.8,459.2L981.6,459.6L982.5,460.1L983.4,460.5L984.3,461.0L985.2,461.4L986.2,461.8L987.1,462.1L988.0,462.5L989.0,462.8L989.9,463.1L990.9,463.4L991.9,463.6L992.8,463.9L993.8,464.1L994.8,464.2L995.8,464.3L996.8,464.4L997.8,464.4L998.8,464.4L999.8,464.4L1000.8,464.3L1001.8,464.2L1002.8,464.1L1003.8,463.9L1004.7,463.6L1005.7,463.4L1006.7,463.1L1007.6,462.8L1008.5,462.4L1009.5,462.0L1010.4,461.6L1011.3,461.2L1012.2,460.7L1013.0,460.2L1013.9,459.7L1014.7,459.2L1015.6,458.7L1016.4,458.1L1017.2,457.5L1018.0,456.9L1018.8,456.3L1019.6,455.7L1020.4,455.0L1021.1,454.4L1021.9,453.7L1022.6,453.0L1023.4,452.4L1024.1,451.7L1024.8,451.0L1025.5,450.3L1026.2,449.5L1026.9,448.8L1027.6,448.1L1028.3,447.4L1028.9,446.6L1029.6,445.9L1030.2,445.1L1030.9,444.4L1031.5,443.6L1032.2,442.8L1032.8,442.1L1033.5,441.3L1034.1,440.5L1034.7,439.7L1035.3,438.9L1036.0,438.2L1036.6,437.4L1037.2,436.6L1037.8,435.8L1038.4,435.0L1039.0,434.2L1039.6,433.4L1040.2,432.6L1040.8,431.8L1041.4,431.0L1042.0,430.2L1042.6,429.4L1043.1,428.5L1043.7,427.7L1044.3,426.9L1044.9,426.1L1045.4,425.3L1046.0,424.4L1046.6,423.6L1047.1,422.8L1047.7,422.0L1048.2,421.1L1048.8,420.3L1049.4,419.5L1049.9,418.6L1050.4,417.8L1051.0,416.9L1051.5,416.1L1052.1,415.2L1052.6,414.4L1053.1,413.5L1053.7,412.7L1054.2,411.8L1054.7,411.0L1055.2,410.1L1055.7,409.3L1056.3,408.4L1056.8,407.6L1057.3,406.7L1057.8,405.8L1058.3,405.0L1058.8,404.1L1059.3,403.2L1059.8,402.4L1060.3,401.5L1060.8,400.6L1061.3,399.8L1061.7,398.9L1062.2,398.0L1062.7,397.1L1063.2,396.3L1063.7,395.4L1064.1,394.5L1064.6,393.6L1065.1,392.7L1065.6,391.9L1066.0,391.0L1066.5,390.1L1067.0,389.2L1067.4,388.3L1067.9,387.4L1068.3,386.5L1068.8,385.6L1069.2,384.7L1069.7,383.9L1070.1,383.0L1070.6,382.1L1071.0,381.2L1071.5,380.3L1071.9,379.4L1072.4,378.5L1072.8,377.6L1073.2,376.7L1073.7,375.8L1074.1,374.9L1074.5,374.0L1075.0,373.1L1075.4,372.2L1075.8,371.2L1076.2,370.3L1076.7,369.4L1077.1,368.5L1077.5,367.6L1077.9,366.7L1078.3,365.8L1078.7,364.9L1079.2,364.0L1079.6,363.1L1080.0,362.2L1080.4,361.2L1080.8,360.3L1081.2,359.4L1081.6,358.5L1082.0,357.6L1082.4,356.7L1082.8,355.8L1083.2,354.8L1083.6,353.9L1084.0,353.0L1084.4,352.1L1084.8,351.2L1085.2,350.3L1085.6,349.3L1086.0,348.4L1086.4,347.5L1086.8,346.6L1087.2,345.7L1087.6,344.7L1088.0,343.8L1088.4,342.9L1088.8,342.0L1089.1,341.1L1089.5,340.1L1089.9,339.2L1090.3,338.3L1090.7,337.4L1091.1,336.4L1091.5,335.5L1091.9,334.6L1092.2,333.7L1092.6,332.7L1093.0,331.8L1093.4,330.9L1093.8,330.0L1094.2,329.0L1094.5,328.1L1094.9,327.2L1095.3,326.3L1095.7,325.4L1096.1,324.4L1096.5,323.5L1096.8,322.6L1097.2,321.7L1097.6,320.7L1098.0,319.8L1098.4,318.9L1098.7,318.0L1099.1,317.0L1099.5,316.1L1099.9,315.2L1100.3,314.2L1100.6,313.3L1101.0,312.4L1101.4,311.5L1101.8,310.5L1102.2,309.6L1102.5,308.7L1102.9,307.8L1103.3,306.8L1103.7,305.9L1104.0,305.0L1104.4,304.1L1104.8,303.1L1105.2,302.2L1105.6,301.3L1105.9,300.4L1106.3,299.4L1106.7,298.5L1107.1,297.6L1107.5,296.7L1107.8,295.7L1108.2,294.8L1108.6,293.9L1109.0,292.9L1109.3,292.0L1109.7,291.1L1110.1,290.2L1110.5,289.2L1110.9,288.3L1111.2,287.4L1111.6,286.5L1112.0,285.5L1112.4,284.6L1112.8,283.7L1113.1,282.8L1113.5,281.8L1113.9,280.9L1114.3,280.0L1114.7,279.1L1115.0,278.1L1115.4,277.2L1115.8,276.3L1116.2,275.4L1116.6,274.4L1117.0,273.5L1117.3,272.6L1117.7,271.7L1118.1,270.7L1118.5,269.8L1118.9,268.9L1119.3,268.0L1119.6,267.0L1120.0,266.1L1120.4,265.2L1120.8,264.3L1121.2,263.4L1121.6,262.4L1122.0,261.5L1122.3,260.6L1122.7,259.7L1123.1,258.7L1123.5,257.8L1123.9,256.9L1124.3,256.0L1124.7,255.1L1125.1,254.1L1125.5,253.2L1125.9,252.3L1126.3,251.4L1126.6,250.5L1127.0,249.5L1127.4,248.6L1127.8,247.7L1128.2,246.8L1128.6,245.9L1129.0,244.9L1129.4,244.0L1129.8,243.1L1130.2,242.2L1130.6,241.3L1131.0,240.4L1131.4,239.4L1131.8,238.5L1132.2,237.6L1132.6,236.7L1133.0,235.8L1133.4,234.9L1133.8,233.9L1134.2,233.0L1134.7,232.1L1135.1,231.2L1135.5,230.3L1135.9,229.4L1136.3,228.5L1136.7,227.5L1137.1,226.6L1137.5,225.7L1137.9,224.8L1138.4,223.9L1138.8,223.0L1139.2,222.1L1139.6,221.2L1140.0,220.3L1140.4,219.4L1140.9,218.4L1141.3,217.5L1141.7,216.6L1142.1,215.7L1142.5,214.8L1143.0,213.9L1143.4,213.0L1143.8,212.1L1144.3,211.2L1144.7,210.3L1145.1,209.4L1145.5,208.5L1146.0,207.6L1146.4,206.7L1146.8,205.8L1147.3,204.9L1147.7,204.0L1148.1,203.1L1148.6,202.2L1149.0,201.3L1149.5,200.4L1149.9,199.5L1150.4,198.6L1150.8,197.7L1151.2,196.8L1151.7,195.9L1152.1,195.0L1152.6,194.1L1153.0,193.2L1153.5,192.3L1153.9,191.4L1154.4,190.5L1154.8,189.6L1155.3,188.8L1155.8,187.9L1156.2,187.0L1156.7,186.1L1157.1,185.2L1157.6,184.3L1158.1,183.4L1158.5,182.5L1159.0,181.7L1159.5,180.8L1159.9,179.9L1160.4,179.0L1160.9,178.1L1161.3,177.2L1161.8,176.4L1162.3,175.5L1162.8,174.6L1163.2,173.7L1163.7,172.8L1164.2,172.0L1164.7,171.1L1165.2,170.2L1165.7,169.3L1166.2,168.5L1166.6,167.6L1167.1,166.7L1167.6,165.9L1168.1,165.0L1168.6,164.1L1169.1,163.2L1169.6,162.4L1170.1,161.5L1170.6,160.6L1171.1,159.8L1171.6,158.9L1172.1,158.0L1172.6,157.2L1173.1,156.3L1173.6,155.5L1174.1,154.6L1174.7,153.7L1175.2,152.9L1175.7,152.0L1176.2,151.2L1176.7,150.3L1177.2,149.5L1177.8,148.6L1178.3,147.8L1178.8,146.9L1179.3,146.1L1179.9,145.2L1180.4,144.4L1180.9,143.5L1181.5,142.7L1182.0,141.8L1182.5,141.0L1183.1,140.1L1183.6,139.3L1184.2,138.4L1184.7,137.6L1185.3,136.8L1185.8,135.9L1186.4,135.1L1186.9,134.3L1187.5,133.4L1188.0,132.6L1188.6,131.8L1189.1,130.9L1189.7,130.1L1190.3,129.3L1190.8,128.4L1191.4,127.6L1191.9,126.8L1192.5,126.0L1193.1,125.2L1193.7,124.3L1194.2,123.5L1194.8,122.7L1195.4,121.9L1196.0,121.1L1196.5,120.2L1197.1,119.4L1197.7,118.6L1198.3,117.8L1198.9,117.0L1199.5,116.2L1200.1,115.4L1200.7,114.6L1201.3,113.8L1201.9,113.0L1202.5,112.2L1203.1,111.4L1203.7,110.6L1204.3,109.8L1204.9,109.0L1205.5,108.2L1206.1,107.4L1206.7,106.6L1207.3,105.8L1208.0,105.1L1208.6,104.3L1209.2,103.5L1209.9,102.8L1210.6,102.0L1211.2,101.3L1211.9,100.5L1212.6,99.8L1213.3,99.1L1214.0,98.4L1214.7,97.7L1215.4,97.0L1216.2,96.3L1216.9,95.6L1217.7,95.0L1218.5,94.4L1219.3,93.8L1220.1,93.2L1220.9,92.6L1221.7,92.1L1222.6,91.6L1223.5,91.1L1224.4,90.6L1225.3,90.2L1226.2,89.8L1227.1,89.4L1228.1,89.1L1229.0,88.8L1230.0,88.5L1231.0,88.3L1231.9,88.1L1232.9,87.9L1233.9,87.8L1234.9,87.7L1235.9,87.6L1236.9,87.5L1237.9,87.5L1238.9,87.5L1239.9,87.5L1240.9,87.6L1241.9,87.7L1242.9,87.8L1243.9,87.9L1244.9,88.1L1245.9,88.3L1246.8,88.5L1247.8,88.7L1248.8,88.9L1249.7,89.2L1250.7,89.5L1251.7,89.8L1252.6,90.2L1253.5,90.5L1254.5,90.9L1255.4,91.3L1256.3,91.7L1257.2,92.2L1258.1,92.6L1258.9,93.1L1259.8,93.6L1260.7,94.1L1261.5,94.7L1262.3,95.2L1263.2,95.8L1264.0,96.4L1264.8,97.0L1265.6,97.6L1266.4,98.2L1267.1,98.8L1267.9,99.5L1268.6,100.1L1269.4,100.8L1270.1,101.5L1270.8,102.2L1271.6,102.9L1272.3,103.6L1273.0,104.3L1273.7,105.0L1274.4,105.7L1275.0,106.5L1275.7,107.2L1276.4,108.0L1277.0,108.7L1277.7,109.5L1278.3,110.2L1279.0,111.0L1279.6,111.8L1280.2,112.6L1280.8,113.4L1281.5,114.1L1282.1,114.9L1282.7,115.7L1283.3,116.5L1283.9,117.3L1284.5,118.1L1285.1,118.9L1285.6,119.8L1286.2,120.6L1286.8,121.4L1287.4,122.2L1288.0,123.0L1288.5,123.8L1289.1,124.7L1289.7,125.5L1290.2,126.3L1290.8,127.2L1291.3,128.0L1291.9,128.8L1292.4,129.6L1293.0,130.5L1293.5,131.3L1294.1,132.2L1294.6,133.0L1295.2,133.8L1295.7,134.7L1296.3,135.5L1296.8,136.3L1297.4,137.2L1297.9,138.0L1298.5,138.8L1299.0,139.7L1299.6,140.5L1300.1,141.4L1300.7,142.2L1301.2,143.0L1301.7,143.9L1302.3,144.7L1302.8,145.6L1303.4,146.4L1303.9,147.2L1304.5,148.1L1305.0,148.9L1305.5,149.8L1306.1,150.6L1306.6,151.5L1307.2,152.3L1307.7,153.1L1308.2,154.0L1308.8,154.8L1309.3,155.7L1309.9,156.5L1310.4,157.4L1310.9,158.2L1311.5,159.0L1312.0,159.9L1312.5,160.7L1313.1,161.6L1313.6,162.4L1314.2,163.3L1314.7,164.1L1315.2,165.0L1315.8,165.8L1316.3,166.6L1316.8,167.5L1317.4,168.3L1317.9,169.2L1318.5,170.0L1319.0,170.9L1319.5,171.7L1320.1,172.5L1320.6,173.4L1321.1,174.2L1321.7,175.1L1322.2,175.9L1322.8,176.8L1323.3,177.6L1323.8,178.5L1324.4,179.3L1324.9,180.1L1325.5,181.0L1326.0,181.8L1326.5,182.7L1327.1,183.5L1327.6,184.3L1328.2,185.2L1328.7,186.0L1329.2,186.9L1329.8,187.7L1330.3,188.6L1330.9,189.4L1331.4,190.2L1332.0,191.1L1332.5,191.9L1333.0,192.8L1333.6,193.6L1334.1,194.4L1334.7,195.3L1335.2,196.1L1335.8,196.9L1336.3,197.8L1336.9,198.6L1337.4,199.5L1338.0,200.3L1338.5,201.1L1339.1,202.0L1339.6,202.8L1340.2,203.6L1340.7,204.5L1341.3,205.3L1341.8,206.1L1342.4,207.0L1343.0,207.8L1343.5,208.6L1344.1,209.5L1344.6,210.3L1345.2,211.1L1345.7,211.9L1346.3,212.8L1346.9,213.6L1347.4,214.4L1348.0,215.3L1348.6,216.1L1349.1,216.9L1349.7,217.7L1350.3,218.6L1350.8,219.4L1351.4,220.2L1352.0,221.0L1352.5,221.8L1353.1,222.7L1353.7,223.5L1354.3,224.3L1354.8,225.1L1355.4,225.9L1356.0,226.8L1356.6,227.6" fill="none" stroke="#0000ff" stroke-width="6" stroke-linejoin="round" stroke-dasharray="6 4.75" clip-path="url(#ct)"/>
<path d="M188.5,276.2 L1357.0,276.2" fill="none" stroke="#000000" stroke-width="6" stroke-linejoin="round" stroke-dasharray="22.7 20.5" clip-path="url(#ct)"/>
<path d="M188.5,815.5L190.5,806.5L193.7,795.7L196.9,778.3L199.7,760.9L201.8,743.5L204.0,726.1L206.3,713.0L208.6,707.0L211.8,704.3L214.8,707.2L218.3,716.0L221.5,724.5L224.4,731.8L227.5,737.6L231.0,741.8L235.0,744.6L235.0,744.6L235.9,745.0L236.8,745.4L237.8,745.7L238.7,746.0L239.7,746.3L240.7,746.5L241.7,746.7L242.6,746.9L243.6,747.1L244.6,747.2L245.6,747.3L246.6,747.4L247.6,747.5L248.6,747.6L249.6,747.6L250.6,747.7L251.6,747.7L252.6,747.7L253.6,747.7L254.6,747.7L255.6,747.7L256.6,747.7L257.6,747.7L258.6,747.7L259.6,747.7L260.6,747.7L261.6,747.7L262.6,747.7L263.6,747.6L264.6,747.6L265.6,747.6L266.6,747.6L267.6,747.6L268.6,747.6L269.6,747.5L270.6,747.5L271.6,747.5L272.6,747.5L273.6,747.5L274.6,747.5L275.6,747.5L276.6,747.5L277.6,747.5L278.6,747.5L279.6,747.6L280.6,747.6L281.7,747.6L282.7,747.7L283.7,747.7L284.7,747.8L285.6,747.9L286.6,747.9L287.6,748.0L288.6,748.1L289.6,748.2L290.6,748.4L291.6,748.5L292.6,748.6L293.6,748.8L294.6,749.0L295.6,749.2L296.6,749.4L297.5,749.6L298.5,749.8L299.5,750.1L300.4,750.3L301.4,750.6L302.4,750.9L303.3,751.2L304.3,751.5L305.2,751.9L306.1,752.2L307.1,752.6L308.0,753.0L308.9,753.3L309.8,753.7L310.8,754.1L311.7,754.6L312.6,755.0L313.5,755.4L314.4,755.9L315.3,756.4L316.1,756.8L317.0,757.3L317.9,757.8L318.7,758.3L319.6,758.8L320.5,759.3L321.3,759.9L322.2,760.4L323.0,761.0L323.8,761.5L324.7,762.1L325.5,762.6L326.3,763.2L327.1,763.8L327.9,764.4L328.8,765.0L329.6,765.6L330.4,766.2L331.1,766.8L331.9,767.4L332.7,768.0L333.5,768.6L334.3,769.3L335.1,769.9L335.8,770.5L336.6,771.2L337.4,771.8L338.1,772.5L338.9,773.1L339.6,773.8L340.4,774.5L341.1,775.1L341.9,775.8L342.6,776.5L343.4,777.1L344.1,777.8L344.8,778.5L345.6,779.2L346.3,779.9L347.0,780.6L347.7,781.2L348.5,781.9L349.2,782.6L349.9,783.3L350.6,784.0L351.3,784.7L352.1,785.4L352.8,786.1L353.5,786.8L354.2,787.5L354.9,788.2L355.6,789.0L356.3,789.7L357.0,790.4L357.7,791.1L358.4,791.8L359.1,792.5L359.8,793.2L360.6,793.9L361.3,794.6L362.0,795.3L362.7,796.1L363.4,796.8L364.1,797.5L364.8,798.2L365.5,798.9L366.2,799.6L366.9,800.3L367.6,801.1L368.3,801.8L369.0,802.5L369.7,803.2L370.4,803.9L371.1,804.6L371.8,805.4L372.5,806.1L373.2,806.8L373.9,807.5L374.6,808.2L375.3,808.9L376.0,809.7L376.7,810.4L377.4,811.1L378.1,811.8L378.8,812.5L379.5,813.2L380.2,814.0L380.9,814.7L381.6,815.4L382.3,816.1L383.0,816.8L383.7,817.5L384.4,818.2L385.1,818.9L385.8,819.7L386.5,820.4L387.2,821.1L387.9,821.8L388.6,822.5L389.3,823.2L390.1,823.9L390.8,824.6L391.5,825.3L392.2,826.0L392.9,826.7L393.6,827.4L394.3,828.1L395.1,828.8L395.8,829.5L396.5,830.2L397.2,830.9L397.9,831.6L398.7,832.3L399.4,833.0L400.1,833.7L400.8,834.4L401.6,835.0L402.3,835.7L403.0,836.4L403.8,837.1L404.5,837.8L405.2,838.4L406.0,839.1L406.7,839.8L407.5,840.5L408.2,841.1L408.9,841.8L409.7,842.5L410.4,843.1L411.2,843.8L411.9,844.5L412.7,845.1L413.5,845.8L414.2,846.4L415.0,847.1L415.7,847.7L416.5,848.4L417.3,849.0L418.0,849.7L418.8,850.3L419.6,850.9L420.4,851.6L421.1,852.2L421.9,852.8L422.7,853.5L423.5,854.1L424.3,854.7L425.1,855.3L425.8,855.9L426.6,856.5L427.4,857.1L428.2,857.7L429.0,858.3L429.8,858.9L430.7,859.5L431.5,860.1L432.3,860.7L433.1,861.3L433.9,861.9L434.7,862.5L435.5,863.0L436.4,863.6L437.2,864.2L438.0,864.7L438.8,865.3L439.7,865.8L440.5,866.4L441.3,867.0L442.2,867.5L443.0,868.1L443.9,868.6L444.7,869.1L445.6,869.7L446.4,870.2L447.2,870.7L448.1,871.3L449.0,871.8L449.8,872.3L450.7,872.8L451.5,873.3L452.4,873.8L453.3,874.3L454.1,874.8L455.0,875.3L455.9,875.8L456.7,876.3L457.6,876.8L458.5,877.3L459.4,877.8L460.2,878.3L461.1,878.8L462.0,879.2L462.9,879.7L463.8,880.2L464.6,880.6L465.5,881.1L466.4,881.6L467.3,882.0L468.2,882.5L469.1,882.9L470.0,883.4L470.9,883.8L471.8,884.2L472.7,884.7L473.6,885.1L474.5,885.5L475.4,886.0L476.3,886.4L477.2,886.8L478.1,887.2L479.0,887.7L480.0,888.1L480.9,888.5L481.8,888.9L482.7,889.3L483.6,889.7L484.5,890.1L485.5,890.5L486.4,890.9L487.3,891.3L488.2,891.6L489.2,892.0L490.1,892.4L491.0,892.8L491.9,893.2L492.9,893.5L493.8,893.9L494.7,894.3L495.7,894.6L496.6,895.0L497.5,895.4L498.5,895.7L499.4,896.1L500.3,896.4L501.3,896.8L502.2,897.1L503.2,897.4L504.1,897.8L505.1,898.1L506.0,898.4L506.9,898.8L507.9,899.1L508.8,899.4L509.8,899.7L510.7,900.1L511.7,900.4L512.6,900.7L513.6,901.0L514.5,901.3L515.5,901.6L516.5,901.9L517.4,902.2L518.4,902.5L519.3,902.8L520.3,903.1L521.2,903.3L522.2,903.6L523.2,903.9L524.1,904.2L525.1,904.5L526.1,904.7L527.0,905.0L528.0,905.2L529.0,905.5L529.9,905.8L530.9,906.0L531.9,906.3L532.8,906.5L533.8,906.8L534.8,907.0L535.8,907.2L536.7,907.5L537.7,907.7L538.7,907.9L539.7,908.1L540.6,908.4L541.6,908.6L542.6,908.8L543.6,909.0L544.5,909.2L545.5,909.4L546.5,909.6L547.5,909.8L548.5,910.0L549.5,910.2L550.4,910.4L551.4,910.5L552.4,910.7L553.4,910.9L554.4,911.1L555.4,911.2L556.4,911.4L557.4,911.6L558.3,911.7L559.3,911.9L560.3,912.0L561.3,912.2L562.3,912.3L563.3,912.4L564.3,912.6L565.3,912.7L566.3,912.8L567.3,912.9L568.3,913.1L569.3,913.2L570.3,913.3L571.2,913.4L572.2,913.5L573.2,913.6L574.2,913.7L575.2,913.8L576.2,913.9L577.2,913.9L578.2,914.0L579.2,914.1L580.2,914.2L581.2,914.2L582.2,914.3L583.2,914.3L584.2,914.4L585.2,914.4L586.2,914.5L587.2,914.5L588.2,914.6L589.2,914.6L590.2,914.6L591.2,914.6L592.2,914.6L593.2,914.7L594.2,914.7L595.2,914.7L596.2,914.7L597.2,914.6L598.2,914.6L599.2,914.6L600.2,914.6L601.2,914.6L602.2,914.5L603.2,914.5L604.2,914.5L605.2,914.4L606.2,914.4L607.2,914.3L608.2,914.2L609.2,914.2L610.2,914.1L611.2,914.0L612.2,913.9L613.2,913.8L614.2,913.7L615.2,913.6L616.2,913.5L617.2,913.4L618.2,913.3L619.2,913.2L620.2,913.1L621.2,912.9L622.2,912.8L623.2,912.7L624.2,912.5L625.2,912.4L626.1,912.2L627.1,912.0L628.1,911.9L629.1,911.7L630.1,911.5L631.1,911.3L632.1,911.1L633.0,910.9L634.0,910.7L635.0,910.5L636.0,910.3L636.9,910.0L637.9,909.8L638.9,909.6L639.9,909.3L640.8,909.1L641.8,908.8L642.8,908.6L643.7,908.3L644.7,908.0L645.7,907.8L646.6,907.5L647.6,907.2L648.5,906.9L649.5,906.6L650.5,906.3L651.4,906.0L652.4,905.7L653.3,905.4L654.3,905.1L655.2,904.7L656.2,904.4L657.1,904.1L658.0,903.7L659.0,903.4L659.9,903.0L660.9,902.7L661.8,902.3L662.7,902.0L663.6,901.6L664.6,901.2L665.5,900.8L666.4,900.5L667.4,900.1L668.3,899.7L669.2,899.3L670.1,898.9L671.0,898.5L672.0,898.1L672.9,897.7L673.8,897.3L674.7,896.9L675.6,896.4L676.5,896.0L677.4,895.6L678.3,895.1L679.2,894.7L680.1,894.3L681.0,893.8L681.9,893.4L682.8,892.9L683.7,892.5L684.6,892.0L685.5,891.6L686.4,891.1L687.3,890.7L688.1,890.2L689.0,889.7L689.9,889.2L690.8,888.8L691.7,888.3L692.6,887.8L693.4,887.3L694.3,886.8L695.2,886.3L696.0,885.8L696.9,885.4L697.8,884.9L698.7,884.4L699.5,883.8L700.4,883.3L701.2,882.8L702.1,882.3L703.0,881.8L703.8,881.3L704.7,880.8L705.5,880.3L706.4,879.7L707.2,879.2L708.1,878.7L709.0,878.2L709.8,877.6L710.6,877.1L711.5,876.6L712.3,876.0L713.2,875.5L714.0,875.0L714.9,874.4L715.7,873.9L716.6,873.3L717.4,872.8L718.2,872.2L719.1,871.7L719.9,871.1L720.7,870.6L721.6,870.0L722.4,869.5L723.2,868.9L724.1,868.3L724.9,867.8L725.7,867.2L726.6,866.7L727.4,866.1L728.2,865.5L729.0,865.0L729.9,864.4L730.7,863.8L731.5,863.3L732.3,862.7L733.2,862.1L734.0,861.5L734.8,861.0L735.6,860.4L736.4,859.8L737.3,859.2L738.1,858.7L738.9,858.1L739.7,857.5L740.5,856.9L741.3,856.3L742.2,855.8L743.0,855.2L743.8,854.6L744.6,854.0L745.4,853.4L746.2,852.8L747.0,852.3L747.8,851.7L748.7,851.1L749.5,850.5L750.3,849.9L751.1,849.3L751.9,848.7L752.7,848.2L753.5,847.6L754.3,847.0L755.1,846.4L756.0,845.8L756.8,845.2L757.6,844.6L758.4,844.0L759.2,843.4L760.0,842.9L760.8,842.3L761.6,841.7L762.4,841.1L763.2,840.5L764.0,839.9L764.9,839.3L765.7,838.7L766.5,838.1L767.3,837.5L768.1,837.0L768.9,836.4L769.7,835.8L770.5,835.2L771.3,834.6L772.1,834.0L773.0,833.4L773.8,832.8L774.6,832.3L775.4,831.7L776.2,831.1L777.0,830.5L777.8,829.9L778.6,829.3L779.5,828.7L780.3,828.2L781.1,827.6L781.9,827.0L782.7,826.4L783.5,825.8L784.3,825.3L785.2,824.7L786.0,824.1L786.8,823.5L787.6,822.9L788.4,822.3L789.2,821.8L790.1,821.2L790.9,820.6L791.7,820.0L792.5,819.4L793.3,818.9L794.1,818.3L794.9,817.7L795.8,817.1L796.6,816.5L797.4,816.0L798.2,815.4L799.0,814.8L799.8,814.2L800.7,813.6L801.5,813.1L802.3,812.5L803.1,811.9L803.9,811.3L804.7,810.7L805.5,810.1L806.4,809.6L807.2,809.0L808.0,808.4L808.8,807.8L809.6,807.2L810.4,806.6L811.2,806.1L812.1,805.5L812.9,804.9L813.7,804.3L814.5,803.7L815.3,803.1L816.1,802.5L816.9,802.0L817.7,801.4L818.5,800.8L819.3,800.2L820.2,799.6L821.0,799.0L821.8,798.4L822.6,797.8L823.4,797.2L824.2,796.6L825.0,796.0L825.8,795.4L826.6,794.8L827.4,794.2L828.2,793.6L829.0,793.0L829.8,792.4L830.6,791.8L831.4,791.2L832.2,790.6L833.0,790.0L833.8,789.4L834.6,788.8L835.4,788.2L836.2,787.6L837.0,787.0L837.8,786.4L838.6,785.8L839.4,785.2L840.2,784.6L841.0,783.9L841.8,783.3L842.5,782.7L843.3,782.1L844.1,781.5L844.9,780.9L845.7,780.2L846.5,779.6L847.3,779.0L848.0,778.4L848.8,777.8L849.6,777.1L850.4,776.5L851.2,775.9L852.0,775.2L852.7,774.6L853.5,774.0L854.3,773.3L855.1,772.7L855.8,772.1L856.6,771.4L857.4,770.8L858.2,770.2L858.9,769.5L859.7,768.9L860.5,768.3L861.2,767.6L862.0,767.0L862.8,766.3L863.6,765.7L864.3,765.1L865.1,764.4L865.9,763.8L866.7,763.2L867.4,762.5L868.2,761.9L869.0,761.3L869.7,760.6L870.5,760.0L871.3,759.4L872.1,758.7L872.9,758.1L873.6,757.5L874.4,756.8L875.2,756.2L876.0,755.6L876.8,755.0L877.5,754.3L878.3,753.7L879.1,753.1L879.9,752.5L880.7,751.9L881.5,751.3L882.3,750.6L883.1,750.0L883.9,749.4L884.7,748.8L885.5,748.2L886.3,747.6L887.1,747.0L887.9,746.4L888.7,745.8L889.5,745.3L890.3,744.7L891.1,744.1L892.0,743.5L892.8,742.9L893.6,742.4L894.4,741.8L895.2,741.2L896.1,740.7L896.9,740.1L897.7,739.6L898.6,739.0L899.4,738.5L900.3,737.9L901.1,737.4L902.0,736.9L902.8,736.4L903.7,735.8L904.5,735.3L905.4,734.8L906.3,734.3L907.1,733.8L908.0,733.3L908.9,732.9L909.8,732.4L910.7,731.9L911.6,731.5L912.4,731.0L913.3,730.5L914.2,730.1L915.1,729.7L916.0,729.2L917.0,728.8L917.9,728.4L918.8,728.0L919.7,727.6L920.6,727.2L921.5,726.8L922.5,726.5L923.4,726.1L924.4,725.8L925.3,725.4L926.2,725.1L927.2,724.8L928.1,724.4L929.1,724.1L930.0,723.8L931.0,723.5L932.0,723.3L932.9,723.0L933.9,722.7L934.9,722.5L935.8,722.2L936.8,722.0L937.8,721.7L938.7,721.5L939.7,721.3L940.7,721.1L941.7,720.9L942.7,720.7L943.6,720.5L944.6,720.3L945.6,720.1L946.6,719.9L947.6,719.8L948.6,719.6L949.6,719.5L950.6,719.3L951.5,719.2L952.5,719.0L953.5,718.9L954.5,718.8L955.5,718.6L956.5,718.5L957.5,718.4L958.5,718.3L959.5,718.2L960.5,718.1L961.5,718.0L962.5,717.9L963.5,717.8L964.5,717.8L965.5,717.7L966.5,717.6L967.5,717.5L968.5,717.5L969.5,717.4L970.5,717.3L971.5,717.3L972.5,717.2L973.5,717.2L974.5,717.1L975.5,717.0L976.5,717.0L977.5,717.0L978.5,716.9L979.5,716.9L980.5,716.8L981.5,716.8L982.5,716.7L983.5,716.7L984.5,716.7L985.5,716.6L986.5,716.6L987.5,716.6L988.5,716.5L989.5,716.5L990.5,716.5L991.5,716.5L992.5,716.4L993.5,716.4L994.5,716.4L995.5,716.3L996.5,716.3L997.5,716.3L998.5,716.2L999.5,716.2L1000.5,716.2L1001.5,716.2L1002.5,716.1L1003.5,716.1L1004.5,716.1L1005.5,716.1L1006.5,716.1L1007.5,716.0L1008.5,716.0L1009.5,716.0L1010.5,716.0L1011.5,716.0L1012.5,716.0L1013.5,716.0L1014.5,716.0L1015.5,716.0L1016.5,716.0L1017.5,716.0L1018.5,716.0L1019.5,716.0L1020.5,716.0L1021.5,716.0L1022.5,716.0L1023.5,716.0L1024.5,716.0L1025.5,716.1L1026.5,716.1L1027.5,716.1L1028.5,716.2L1029.5,716.2L1030.5,716.3L1031.5,716.3L1032.5,716.4L1033.5,716.4L1034.5,716.5L1035.5,716.5L1036.5,716.6L1037.5,716.7L1038.5,716.8L1039.5,716.9L1040.5,716.9L1041.5,717.0L1042.5,717.1L1043.5,717.3L1044.5,717.4L1045.5,717.5L1046.5,717.6L1047.5,717.7L1048.5,717.9L1049.5,718.0L1050.5,718.2L1051.4,718.3L1052.4,718.5L1053.4,718.7L1054.4,718.8L1055.4,719.0L1056.4,719.2L1057.4,719.4L1058.3,719.6L1059.3,719.8L1060.3,720.1L1061.3,720.3L1062.2,720.5L1063.2,720.8L1064.2,721.0L1065.1,721.3L1066.1,721.6L1067.1,721.8L1068.0,722.1L1069.0,722.4L1069.9,722.7L1070.9,723.0L1071.8,723.4L1072.8,723.7L1073.7,724.0L1074.7,724.4L1075.6,724.7L1076.5,725.1L1077.5,725.4L1078.4,725.8L1079.3,726.2L1080.3,726.5L1081.2,726.9L1082.1,727.3L1083.0,727.7L1083.9,728.1L1084.9,728.5L1085.8,729.0L1086.7,729.4L1087.6,729.8L1088.5,730.3L1089.4,730.7L1090.3,731.1L1091.2,731.6L1092.1,732.1L1092.9,732.5L1093.8,733.0L1094.7,733.5L1095.6,733.9L1096.5,734.4L1097.3,734.9L1098.2,735.4L1099.1,735.9L1100.0,736.4L1100.8,736.9L1101.7,737.4L1102.6,737.9L1103.4,738.4L1104.3,738.9L1105.1,739.4L1106.0,740.0L1106.8,740.5L1107.7,741.0L1108.5,741.6L1109.4,742.1L1110.2,742.6L1111.1,743.2L1111.9,743.7L1112.7,744.3L1113.6,744.8L1114.4,745.4L1115.2,746.0L1116.1,746.5L1116.9,747.1L1117.7,747.6L1118.5,748.2L1119.4,748.8L1120.2,749.4L1121.0,749.9L1121.8,750.5L1122.6,751.1L1123.5,751.7L1124.3,752.2L1125.1,752.8L1125.9,753.4L1126.7,754.0L1127.5,754.6L1128.3,755.2L1129.1,755.8L1129.9,756.4L1130.7,757.0L1131.5,757.6L1132.4,758.2L1133.2,758.7L1134.0,759.3L1134.8,759.9L1135.6,760.5L1136.4,761.2L1137.2,761.8L1138.0,762.4L1138.8,763.0L1139.6,763.6L1140.4,764.2L1141.1,764.8L1141.9,765.4L1142.7,766.0L1143.5,766.6L1144.3,767.2L1145.1,767.8L1145.9,768.4L1146.7,769.1L1147.5,769.7L1148.3,770.3L1149.1,770.9L1149.9,771.5L1150.7,772.1L1151.4,772.7L1152.2,773.4L1153.0,774.0L1153.8,774.6L1154.6,775.2L1155.4,775.8L1156.2,776.5L1156.9,777.1L1157.7,777.7L1158.5,778.3L1159.3,779.0L1160.1,779.6L1160.9,780.2L1161.7,780.8L1162.4,781.4L1163.2,782.1L1164.0,782.7L1164.8,783.3L1165.6,783.9L1166.3,784.6L1167.1,785.2L1167.9,785.8L1168.7,786.4L1169.5,787.1L1170.3,787.7L1171.0,788.3L1171.8,789.0L1172.6,789.6L1173.4,790.2L1174.2,790.8L1174.9,791.5L1175.7,792.1L1176.5,792.7L1177.3,793.3L1178.1,794.0L1178.8,794.6L1179.6,795.2L1180.4,795.9L1181.2,796.5L1182.0,797.1L1182.7,797.7L1183.5,798.4L1184.3,799.0L1185.1,799.6L1185.9,800.2L1186.7,800.9L1187.4,801.5L1188.2,802.1L1189.0,802.7L1189.8,803.4L1190.6,804.0L1191.4,804.6L1192.1,805.2L1192.9,805.9L1193.7,806.5L1194.5,807.1L1195.3,807.7L1196.1,808.3L1196.8,809.0L1197.6,809.6L1198.4,810.2L1199.2,810.8L1200.0,811.4L1200.8,812.1L1201.6,812.7L1202.4,813.3L1203.1,813.9L1203.9,814.5L1204.7,815.1L1205.5,815.8L1206.3,816.4L1207.1,817.0L1207.9,817.6L1208.7,818.2L1209.5,818.8L1210.3,819.4L1211.1,820.0L1211.9,820.6L1212.7,821.2L1213.5,821.8L1214.3,822.5L1215.1,823.1L1215.9,823.7L1216.7,824.3L1217.5,824.9L1218.3,825.5L1219.1,826.1L1219.9,826.7L1220.7,827.3L1221.5,827.9L1222.3,828.5L1223.1,829.1L1223.9,829.7L1224.7,830.3L1225.5,830.9L1226.3,831.5L1227.1,832.1L1227.9,832.7L1228.7,833.2L1229.5,833.8L1230.3,834.4L1231.1,835.0L1231.9,835.6L1232.7,836.2L1233.5,836.8L1234.3,837.4L1235.1,838.0L1235.9,838.6L1236.7,839.2L1237.6,839.8L1238.4,840.4L1239.2,841.0L1240.0,841.6L1240.8,842.2L1241.6,842.8L1242.4,843.4L1243.2,844.0L1244.0,844.5L1244.8,845.1L1245.6,845.7L1246.4,846.3L1247.2,846.9L1248.0,847.5L1248.8,848.1L1249.6,848.7L1250.4,849.3L1251.2,849.9L1252.0,850.5L1252.8,851.1L1253.6,851.7L1254.4,852.3L1255.2,852.9L1256.0,853.5L1256.8,854.1L1257.6,854.7L1258.4,855.3L1259.2,855.9L1260.0,856.5L1260.8,857.1L1261.6,857.7L1262.4,858.3L1263.2,859.0L1264.0,859.6L1264.8,860.2L1265.6,860.8L1266.4,861.4L1267.2,862.0L1268.0,862.6L1268.8,863.2L1269.6,863.8L1270.4,864.5L1271.2,865.1L1271.9,865.7L1272.7,866.3L1273.5,866.9L1274.3,867.6L1275.1,868.2L1275.9,868.8L1276.7,869.4L1277.4,870.1L1278.2,870.7L1279.0,871.3L1279.8,871.9L1280.6,872.6L1281.3,873.2L1282.1,873.8L1282.9,874.5L1283.7,875.1L1284.4,875.7L1285.2,876.4L1286.0,877.0L1286.7,877.7L1287.5,878.3L1288.3,878.9L1289.0,879.6L1289.8,880.2L1290.6,880.9L1291.4,881.5L1292.1,882.1L1292.9,882.8L1293.7,883.4L1294.4,884.1L1295.2,884.7L1296.0,885.3L1296.8,886.0L1297.5,886.6L1298.3,887.2L1299.1,887.9L1299.9,888.5L1300.6,889.1L1301.4,889.7L1302.2,890.4L1303.0,891.0L1303.8,891.6L1304.6,892.2L1305.4,892.8L1306.2,893.4L1307.0,894.0L1307.8,894.6L1308.6,895.2L1309.4,895.8L1310.2,896.3L1311.1,896.9L1311.9,897.5L1312.7,898.0L1313.6,898.6L1314.4,899.2L1315.2,899.7L1316.1,900.2L1316.9,900.8L1317.8,901.3L1318.6,901.8L1319.5,902.3L1320.4,902.8L1321.2,903.3L1322.1,903.8L1323.0,904.3L1323.9,904.7L1324.8,905.2L1325.7,905.6L1326.6,906.1L1327.5,906.5L1328.4,906.9L1329.3,907.3L1330.2,907.7L1331.2,908.1L1332.1,908.4L1333.0,908.8L1334.0,909.1L1334.9,909.5L1335.9,909.8L1336.8,910.1L1337.8,910.4L1338.7,910.7L1339.7,910.9L1340.7,911.2L1341.6,911.4L1342.6,911.6L1343.6,911.8L1344.6,912.0L1345.6,912.2L1346.6,912.4L1347.5,912.5L1348.5,912.7L1349.5,912.8L1350.5,912.9L1351.5,913.0L1352.5,913.1L1353.5,913.2L1354.5,913.2L1355.5,913.2L1356.5,913.3L1357.5,913.3" fill="none" stroke="#ff0000" stroke-width="6" stroke-linejoin="round" clip-path="url(#cb)"/>
<path d="M188.0,815.6L188.5,814.7L189.0,813.9L189.4,813.0L189.9,812.1L190.3,811.2L190.8,810.3L191.2,809.4L191.6,808.5L192.1,807.6L192.5,806.6L192.9,805.7L193.3,804.8L193.6,803.9L194.0,803.0L194.4,802.0L194.8,801.1L195.1,800.2L195.5,799.2L195.8,798.3L196.2,797.4L196.5,796.4L196.8,795.5L197.1,794.5L197.4,793.6L197.7,792.6L198.0,791.6L198.3,790.7L198.6,789.7L198.9,788.8L199.2,787.8L199.4,786.8L199.7,785.9L199.9,784.9L200.2,783.9L200.4,783.0L200.7,782.0L200.9,781.0L201.1,780.1L201.4,779.1L201.6,778.1L201.8,777.1L202.0,776.2L202.3,775.2L202.5,774.2L202.7,773.2L202.9,772.2L203.1,771.3L203.3,770.3L203.5,769.3L203.7,768.3L203.9,767.3L204.1,766.4L204.3,765.4L204.5,764.4L204.7,763.4L204.9,762.4L205.1,761.5L205.4,760.5L205.6,759.5L205.8,758.5L206.0,757.6L206.2,756.6L206.4,755.6L206.7,754.6L206.9,753.7L207.1,752.7L207.4,751.7L207.6,750.7L207.9,749.8L208.2,748.8L208.5,747.9L208.8,746.9L209.1,746.0L209.4,745.0L209.8,744.1L210.2,743.2L210.6,742.2L211.0,741.3L211.4,740.4L211.9,739.5L212.4,738.7L212.9,737.8L213.4,737.0L214.0,736.2L214.6,735.4L215.3,734.6L216.0,733.9L216.7,733.2L217.5,732.6L218.3,732.1L219.2,731.5L220.1,731.1L221.0,730.7L221.9,730.3L222.9,730.0L223.9,729.8L224.9,729.6L225.8,729.5L226.8,729.4L227.8,729.3L228.8,729.4L229.8,729.4L230.8,729.5L231.8,729.6L232.8,729.8L233.8,730.0L234.8,730.3L235.7,730.6L236.7,730.9L237.6,731.3L238.5,731.7L239.4,732.1L240.3,732.5L241.2,733.0L242.1,733.5L242.9,734.0L243.8,734.5L244.6,735.1L245.5,735.6L246.3,736.2L247.1,736.7L247.9,737.3L248.7,737.9L249.6,738.5L250.4,739.1L251.2,739.7L252.0,740.2L252.8,740.8L253.6,741.4L254.4,742.0L255.2,742.6L256.1,743.1L256.9,743.7L257.7,744.2L258.6,744.8L259.4,745.3L260.3,745.8L261.2,746.3L262.0,746.8L262.9,747.2L263.8,747.7L264.8,748.1L265.7,748.4L266.6,748.8L267.6,749.1L268.5,749.4L269.5,749.7L270.5,750.0L271.4,750.2L272.4,750.4L273.4,750.6L274.4,750.8L275.3,751.0L276.3,751.2L277.3,751.3L278.3,751.5L279.3,751.6L280.3,751.7L281.3,751.9L282.3,752.0L283.3,752.1L284.3,752.3L285.3,752.4L286.2,752.6L287.2,752.7L288.2,752.8L289.2,753.0L290.2,753.2L291.2,753.3L292.2,753.5L293.2,753.6L294.2,753.8L295.1,753.9L296.1,754.1L297.1,754.2L298.1,754.4L299.1,754.5L300.1,754.6L301.1,754.8L302.1,754.9L303.1,755.0L304.1,755.1L305.1,755.2L306.1,755.3L307.1,755.3L308.1,755.4L309.1,755.4L310.1,755.5L311.1,755.5L312.1,755.5L313.1,755.5L314.1,755.5L315.1,755.4L316.1,755.3L317.1,755.3L318.1,755.2L319.0,755.1L320.0,754.9L321.0,754.8L322.0,754.6L323.0,754.5L324.0,754.3L325.0,754.2L326.0,754.0L327.0,753.8L327.9,753.6L328.9,753.5L329.9,753.3L330.9,753.1L331.9,753.0L332.9,752.8L333.9,752.7L334.9,752.5L335.8,752.4L336.8,752.3L337.8,752.2L338.8,752.1L339.8,752.1L340.8,752.0L341.8,752.0L342.8,752.0L343.8,752.1L344.8,752.1L345.8,752.2L346.8,752.3L347.8,752.5L348.8,752.6L349.8,752.8L350.8,753.0L351.7,753.2L352.7,753.5L353.7,753.7L354.6,754.0L355.6,754.3L356.5,754.7L357.5,755.0L358.4,755.4L359.3,755.8L360.2,756.2L361.1,756.6L362.0,757.0L362.9,757.5L363.8,758.0L364.7,758.5L365.5,759.0L366.4,759.5L367.2,760.1L368.1,760.6L368.9,761.2L369.7,761.8L370.5,762.4L371.3,763.0L372.1,763.6L372.8,764.2L373.6,764.9L374.4,765.5L375.1,766.2L375.8,766.9L376.6,767.6L377.3,768.3L378.0,769.0L378.7,769.7L379.4,770.4L380.0,771.2L380.7,771.9L381.4,772.7L382.0,773.4L382.7,774.2L383.3,775.0L383.9,775.8L384.5,776.5L385.1,777.3L385.7,778.2L386.3,779.0L386.9,779.8L387.4,780.6L388.0,781.4L388.6,782.3L389.1,783.1L389.6,784.0L390.1,784.8L390.7,785.7L391.2,786.5L391.7,787.4L392.2,788.3L392.7,789.2L393.1,790.0L393.6,790.9L394.1,791.8L394.5,792.7L395.0,793.6L395.4,794.5L395.9,795.4L396.3,796.3L396.7,797.2L397.2,798.1L397.6,799.0L398.0,799.9L398.4,800.8L398.8,801.7L399.2,802.6L399.6,803.6L400.0,804.5L400.4,805.4L400.8,806.3L401.2,807.2L401.6,808.2L402.0,809.1L402.4,810.0L402.7,810.9L403.1,811.9L403.5,812.8L403.9,813.7L404.3,814.6L404.6,815.6L405.0,816.5L405.4,817.4L405.7,818.3L406.1,819.3L406.5,820.2L406.9,821.1L407.2,822.1L407.6,823.0L408.0,823.9L408.4,824.8L408.8,825.8L409.2,826.7L409.5,827.6L409.9,828.5L410.3,829.4L410.7,830.4L411.1,831.3L411.5,832.2L411.9,833.1L412.3,834.0L412.7,835.0L413.1,835.9L413.5,836.8L413.9,837.7L414.3,838.6L414.7,839.5L415.1,840.5L415.5,841.4L415.9,842.3L416.3,843.2L416.7,844.1L417.1,845.0L417.5,845.9L418.0,846.9L418.4,847.8L418.8,848.7L419.2,849.6L419.6,850.5L420.0,851.4L420.4,852.4L420.8,853.3L421.2,854.2L421.6,855.1L422.0,856.0L422.4,857.0L422.7,857.9L423.1,858.8L423.5,859.7L423.9,860.6L424.3,861.6L424.7,862.5L425.1,863.4L425.4,864.3L425.8,865.3L426.2,866.2L426.5,867.1L426.9,868.1L427.3,869.0L427.6,869.9L428.0,870.9L428.3,871.8L428.7,872.7L429.0,873.7L429.4,874.6L429.7,875.6L430.0,876.5L430.4,877.4L430.7,878.4L431.0,879.3L431.4,880.3L431.7,881.2L432.0,882.2L432.3,883.1L432.6,884.1L433.0,885.0L433.3,886.0L433.6,886.9L433.9,887.9L434.3,888.8L434.6,889.8L434.9,890.7L435.2,891.6L435.6,892.6L435.9,893.5L436.3,894.5L436.6,895.4L437.0,896.3L437.3,897.3L437.7,898.2L438.0,899.1L438.4,900.1L438.8,901.0L439.2,901.9L439.6,902.8L440.0,903.8L440.4,904.7L440.8,905.6L441.2,906.5L441.7,907.4L442.1,908.3L442.6,909.2L443.1,910.0L443.5,910.9L444.0,911.8L444.5,912.7L445.1,913.5L445.6,914.4L446.1,915.2L446.7,916.0L447.3,916.8L447.9,917.7L448.5,918.5L449.1,919.2L449.7,920.0L450.3,920.8L451.0,921.5L451.7,922.3L452.4,923.0L453.1,923.7L453.8,924.4L454.5,925.1L455.3,925.8L456.0,926.4L456.8,927.0L457.6,927.6L458.5,928.2L459.3,928.7L460.2,929.2L461.1,929.7L462.0,930.1L462.9,930.4L463.9,930.7L464.8,931.0L465.8,931.1L466.8,931.2L467.8,931.2L468.8,931.1L469.8,930.9L470.8,930.6L471.7,930.3L472.6,929.8L473.5,929.4L474.3,928.8L475.1,928.3L475.9,927.7L476.7,927.0L477.5,926.4L478.2,925.7L478.9,925.0L479.6,924.3L480.3,923.6L481.0,922.8L481.6,922.0L482.2,921.2L482.8,920.4L483.4,919.6L484.0,918.8L484.5,918.0L485.1,917.1L485.6,916.3L486.1,915.4L486.6,914.6L487.1,913.7L487.6,912.8L488.1,912.0L488.6,911.1L489.1,910.2L489.5,909.3L490.0,908.4L490.5,907.5L490.9,906.7L491.4,905.8L491.9,904.9L492.3,904.0L492.8,903.1L493.3,902.2L493.7,901.3L494.2,900.5L494.7,899.6L495.2,898.7L495.7,897.8L496.2,897.0L496.7,896.1L497.2,895.3L497.8,894.4L498.3,893.6L498.8,892.8L499.4,891.9L500.0,891.1L500.6,890.3L501.2,889.5L501.8,888.7L502.4,887.9L503.1,887.2L503.7,886.4L504.4,885.7L505.1,884.9L505.8,884.2L506.5,883.6L507.3,882.9L508.0,882.3L508.8,881.6L509.6,881.1L510.5,880.5L511.3,880.0L512.2,879.5L513.1,879.1L514.0,878.7L515.0,878.3L515.9,878.0L516.9,877.8L517.9,877.6L518.9,877.5L519.9,877.5L520.9,877.5L521.9,877.6L522.9,877.7L523.9,877.9L524.8,878.1L525.8,878.3L526.8,878.6L527.7,878.9L528.7,879.3L529.6,879.7L530.5,880.1L531.4,880.5L532.3,880.9L533.2,881.4L534.0,881.9L534.9,882.4L535.7,882.9L536.6,883.5L537.4,884.1L538.2,884.6L539.0,885.2L539.8,885.8L540.6,886.5L541.4,887.1L542.1,887.8L542.9,888.4L543.6,889.1L544.3,889.8L545.1,890.5L545.8,891.2L546.4,891.9L547.1,892.7L547.8,893.4L548.5,894.2L549.1,894.9L549.8,895.7L550.4,896.5L551.0,897.2L551.6,898.0L552.2,898.8L552.8,899.6L553.4,900.4L554.0,901.2L554.6,902.0L555.2,902.9L555.8,903.7L556.4,904.5L556.9,905.3L557.5,906.1L558.1,907.0L558.6,907.8L559.2,908.6L559.8,909.4L560.3,910.3L560.9,911.1L561.5,911.9L562.0,912.7L562.6,913.6L563.2,914.4L563.7,915.2L564.3,916.0L564.9,916.8L565.5,917.6L566.1,918.4L566.8,919.2L567.4,920.0L568.0,920.7L568.7,921.5L569.3,922.2L570.0,923.0L570.7,923.7L571.4,924.4L572.2,925.1L572.9,925.7L573.7,926.4L574.5,927.0L575.3,927.6L576.1,928.2L576.9,928.7L577.8,929.3L578.6,929.8L579.5,930.3L580.4,930.7L581.3,931.1L582.2,931.5L583.2,931.9L584.1,932.2L585.0,932.5L586.0,932.8L587.0,933.1L587.9,933.3L588.9,933.5L589.9,933.6L590.9,933.7L591.9,933.8L592.9,933.9L593.9,933.9L594.9,933.8L595.9,933.8L596.9,933.7L597.9,933.5L598.9,933.3L599.8,933.1L600.8,932.8L601.8,932.5L602.7,932.1L603.6,931.7L604.5,931.3L605.4,930.8L606.2,930.2L607.1,929.7L607.9,929.1L608.7,928.5L609.5,927.9L610.2,927.2L611.0,926.6L611.7,925.9L612.4,925.2L613.1,924.5L613.8,923.8L614.5,923.0L615.2,922.3L615.8,921.6L616.5,920.8L617.2,920.0L617.8,919.3L618.4,918.5L619.1,917.7L619.7,917.0L620.4,916.2L621.0,915.4L621.6,914.6L622.2,913.9L622.9,913.1L623.5,912.3L624.1,911.5L624.8,910.8L625.4,910.0L626.0,909.2L626.7,908.4L627.3,907.6L627.9,906.9L628.6,906.1L629.2,905.3L629.8,904.6L630.5,903.8L631.1,903.0L631.8,902.3L632.4,901.5L633.1,900.8L633.8,900.0L634.4,899.3L635.1,898.5L635.8,897.8L636.5,897.1L637.2,896.4L637.9,895.6L638.6,894.9L639.3,894.2L640.0,893.6L640.8,892.9L641.5,892.2L642.3,891.5L643.0,890.9L643.8,890.2L644.6,889.6L645.4,889.0L646.2,888.4L647.0,887.8L647.8,887.2L648.6,886.7L649.5,886.1L650.3,885.6L651.2,885.1L652.0,884.6L652.9,884.2L653.8,883.7L654.7,883.3L655.6,882.9L656.6,882.5L657.5,882.1L658.4,881.8L659.4,881.5L660.3,881.2L661.3,880.9L662.3,880.7L663.3,880.4L664.2,880.2L665.2,880.1L666.2,879.9L667.2,879.8L668.2,879.7L669.2,879.6L670.2,879.5L671.2,879.5L672.2,879.5L673.2,879.5L674.2,879.5L675.2,879.6L676.2,879.6L677.2,879.7L678.2,879.9L679.2,880.0L680.1,880.2L681.1,880.4L682.1,880.6L683.1,880.9L684.0,881.2L685.0,881.5L685.9,881.8L686.9,882.2L687.8,882.6L688.7,883.0L689.6,883.4L690.5,883.9L691.3,884.4L692.2,884.9L693.0,885.4L693.9,886.0L694.7,886.6L695.5,887.2L696.3,887.8L697.1,888.4L697.9,889.0L698.7,889.6L699.4,890.2L700.2,890.9L701.0,891.5L701.8,892.1L702.6,892.7L703.4,893.3L704.2,893.9L705.0,894.5L705.8,895.1L706.7,895.6L707.5,896.1L708.4,896.7L709.2,897.1L710.1,897.6L711.0,898.0L712.0,898.4L712.9,898.8L713.8,899.1L714.8,899.5L715.7,899.7L716.7,900.0L717.7,900.2L718.7,900.4L719.6,900.6L720.6,900.7L721.6,900.8L722.6,900.9L723.6,900.9L724.6,901.0L725.6,900.9L726.6,900.9L727.6,900.8L728.6,900.7L729.6,900.5L730.6,900.3L731.6,900.1L732.5,899.8L733.5,899.5L734.4,899.2L735.4,898.8L736.3,898.4L737.2,898.0L738.0,897.5L738.9,897.0L739.7,896.4L740.5,895.8L741.3,895.2L742.1,894.6L742.8,893.9L743.6,893.2L744.3,892.5L744.9,891.7L745.6,891.0L746.2,890.2L746.9,889.5L747.5,888.7L748.1,887.9L748.7,887.1L749.3,886.3L749.8,885.4L750.4,884.6L751.0,883.8L751.5,882.9L752.0,882.1L752.6,881.2L753.1,880.4L753.6,879.5L754.2,878.7L754.7,877.8L755.2,877.0L755.7,876.1L756.2,875.3L756.7,874.4L757.2,873.5L757.7,872.7L758.2,871.8L758.7,870.9L759.2,870.1L759.7,869.2L760.2,868.3L760.7,867.4L761.2,866.6L761.7,865.7L762.2,864.8L762.6,863.9L763.1,863.1L763.6,862.2L764.0,861.3L764.5,860.4L765.0,859.5L765.4,858.6L765.9,857.8L766.4,856.9L766.8,856.0L767.3,855.1L767.7,854.2L768.2,853.3L768.6,852.4L769.1,851.5L769.5,850.6L770.0,849.7L770.4,848.8L770.9,847.9L771.3,847.0L771.8,846.1L772.2,845.2L772.7,844.3L773.1,843.4L773.5,842.5L774.0,841.6L774.4,840.7L774.9,839.8L775.3,838.9L775.7,838.0L776.2,837.1L776.6,836.2L777.0,835.3L777.5,834.4L777.9,833.5L778.3,832.6L778.8,831.7L779.2,830.8L779.6,829.9L780.1,829.0L780.5,828.1L781.0,827.2L781.4,826.3L781.8,825.4L782.3,824.5L782.7,823.6L783.2,822.7L783.6,821.8L784.0,821.0L784.5,820.1L784.9,819.2L785.4,818.3L785.8,817.4L786.3,816.5L786.8,815.6L787.2,814.7L787.7,813.8L788.1,812.9L788.6,812.0L789.1,811.2L789.5,810.3L790.0,809.4L790.5,808.5L791.0,807.6L791.5,806.8L792.0,805.9L792.4,805.0L792.9,804.2L793.4,803.3L793.9,802.4L794.5,801.6L795.0,800.7L795.5,799.8L796.0,799.0L796.5,798.1L797.1,797.3L797.6,796.4L798.1,795.6L798.7,794.8L799.2,793.9L799.8,793.1L800.3,792.3L800.9,791.4L801.5,790.6L802.0,789.8L802.6,789.0L803.2,788.2L803.8,787.3L804.4,786.5L805.0,785.7L805.6,784.9L806.2,784.1L806.8,783.4L807.4,782.6L808.0,781.8L808.7,781.0L809.3,780.2L810.0,779.5L810.6,778.7L811.3,778.0L811.9,777.2L812.6,776.5L813.3,775.7L814.0,775.0L814.6,774.3L815.3,773.6L816.0,772.8L816.8,772.1L817.5,771.4L818.2,770.8L818.9,770.1L819.7,769.4L820.5,768.8L821.2,768.1L822.0,767.5L822.8,766.9L823.6,766.3L824.5,765.8L825.3,765.2L826.1,764.7L827.0,764.2L827.9,763.7L828.8,763.3L829.7,762.8L830.6,762.4L831.5,762.1L832.5,761.8L833.4,761.5L834.4,761.2L835.4,761.0L836.4,760.9L837.4,760.7L838.4,760.7L839.4,760.6L840.4,760.7L841.4,760.7L842.4,760.8L843.4,761.0L844.3,761.1L845.3,761.4L846.3,761.6L847.2,761.9L848.2,762.2L849.1,762.5L850.1,762.9L851.0,763.2L851.9,763.6L852.8,764.1L853.7,764.5L854.6,765.0L855.5,765.5L856.4,766.0L857.2,766.5L858.1,767.0L858.9,767.6L859.7,768.1L860.5,768.7L861.3,769.3L862.1,769.9L862.9,770.5L863.7,771.1L864.5,771.8L865.3,772.4L866.0,773.0L866.8,773.7L867.6,774.3L868.3,775.0L869.1,775.6L869.9,776.2L870.7,776.9L871.4,777.5L872.2,778.1L873.0,778.7L873.8,779.3L874.6,779.9L875.4,780.5L876.3,781.1L877.1,781.6L877.9,782.1L878.8,782.6L879.7,783.1L880.6,783.6L881.5,784.0L882.4,784.4L883.4,784.7L884.3,785.0L885.3,785.3L886.3,785.5L887.3,785.6L888.2,785.7L889.2,785.8L890.2,785.8L891.2,785.8L892.2,785.7L893.2,785.6L894.2,785.5L895.2,785.3L896.2,785.0L897.2,784.8L898.1,784.5L899.1,784.2L900.0,783.8L900.9,783.4L901.8,783.0L902.7,782.5L903.6,782.0L904.4,781.5L905.2,780.9L906.1,780.3L906.8,779.7L907.6,779.1L908.3,778.4L909.1,777.7L909.8,777.0L910.5,776.3L911.1,775.5L911.8,774.7L912.4,774.0L913.0,773.2L913.6,772.4L914.2,771.5L914.7,770.7L915.3,769.9L915.8,769.0L916.4,768.2L916.9,767.3L917.4,766.5L917.9,765.6L918.4,764.7L918.9,763.9L919.4,763.0L919.8,762.1L920.3,761.2L920.8,760.4L921.3,759.5L921.7,758.6L922.2,757.7L922.7,756.8L923.1,755.9L923.6,755.1L924.1,754.2L924.6,753.3L925.1,752.4L925.6,751.6L926.1,750.7L926.6,749.8L927.1,749.0L927.6,748.1L928.1,747.3L928.7,746.4L929.2,745.6L929.7,744.7L930.2,743.9L930.8,743.0L931.3,742.2L931.8,741.3L932.3,740.5L932.8,739.6L933.4,738.7L933.9,737.9L934.4,737.0L934.9,736.1L935.4,735.3L935.8,734.4L936.3,733.5L936.8,732.6L937.3,731.8L937.8,730.9L938.2,730.0L938.7,729.1L939.2,728.2L939.6,727.3L940.1,726.4L940.5,725.6L941.0,724.7L941.5,723.8L941.9,722.9L942.4,722.0L942.8,721.1L943.3,720.2L943.8,719.3L944.2,718.5L944.7,717.6L945.2,716.7L945.7,715.8L946.2,714.9L946.7,714.1L947.1,713.2L947.6,712.3L948.2,711.5L948.7,710.6L949.2,709.8L949.7,708.9L950.2,708.1L950.8,707.2L951.3,706.4L951.9,705.6L952.5,704.7L953.0,703.9L953.6,703.1L954.2,702.3L954.8,701.5L955.4,700.7L956.1,699.9L956.7,699.2L957.4,698.4L958.0,697.7L958.7,696.9L959.4,696.2L960.1,695.5L960.9,694.8L961.6,694.1L962.3,693.5L963.1,692.8L963.9,692.2L964.7,691.6L965.5,691.0L966.3,690.4L967.1,689.9L968.0,689.3L968.8,688.8L969.7,688.3L970.6,687.9L971.5,687.4L972.4,687.0L973.3,686.6L974.2,686.2L975.2,685.9L976.1,685.6L977.1,685.3L978.0,685.0L979.0,684.7L980.0,684.5L981.0,684.4L982.0,684.2L983.0,684.1L984.0,684.0L985.0,684.0L986.0,684.0L987.0,684.0L988.0,684.1L989.0,684.2L989.9,684.3L990.9,684.5L991.9,684.7L992.9,685.0L993.8,685.3L994.8,685.7L995.7,686.0L996.6,686.5L997.5,686.9L998.3,687.4L999.2,687.9L1000.0,688.5L1000.9,689.1L1001.7,689.6L1002.5,690.3L1003.2,690.9L1004.0,691.5L1004.8,692.2L1005.5,692.9L1006.2,693.5L1007.0,694.2L1007.7,694.9L1008.4,695.6L1009.1,696.4L1009.7,697.1L1010.4,697.8L1011.1,698.6L1011.7,699.3L1012.4,700.1L1013.0,700.9L1013.7,701.6L1014.3,702.4L1015.0,703.2L1015.6,704.0L1016.2,704.7L1016.8,705.5L1017.4,706.3L1018.0,707.1L1018.6,707.9L1019.2,708.7L1019.8,709.5L1020.4,710.3L1021.0,711.1L1021.6,712.0L1022.2,712.8L1022.7,713.6L1023.3,714.4L1023.9,715.2L1024.4,716.1L1025.0,716.9L1025.6,717.7L1026.1,718.6L1026.7,719.4L1027.2,720.2L1027.8,721.0L1028.3,721.9L1028.9,722.7L1029.5,723.5L1030.0,724.4L1030.6,725.2L1031.1,726.0L1031.7,726.9L1032.3,727.7L1032.8,728.5L1033.4,729.3L1034.0,730.2L1034.5,731.0L1035.1,731.8L1035.7,732.6L1036.3,733.4L1036.8,734.2L1037.4,735.1L1038.0,735.9L1038.6,736.7L1039.2,737.5L1039.8,738.3L1040.4,739.0L1041.1,739.8L1041.7,740.6L1042.3,741.4L1042.9,742.2L1043.6,742.9L1044.2,743.7L1044.9,744.5L1045.5,745.2L1046.2,746.0L1046.9,746.7L1047.6,747.4L1048.2,748.2L1048.9,748.9L1049.6,749.6L1050.4,750.3L1051.1,751.0L1051.8,751.7L1052.6,752.3L1053.3,753.0L1054.1,753.6L1054.9,754.2L1055.7,754.9L1056.5,755.4L1057.3,756.0L1058.2,756.5L1059.0,757.0L1059.9,757.5L1060.8,758.0L1061.7,758.4L1062.7,758.7L1063.6,759.1L1064.6,759.3L1065.5,759.5L1066.5,759.7L1067.5,759.8L1068.5,759.8L1069.5,759.8L1070.5,759.7L1071.5,759.6L1072.5,759.3L1073.4,759.1L1074.4,758.7L1075.3,758.4L1076.2,758.0L1077.1,757.6L1078.0,757.1L1078.9,756.6L1079.8,756.1L1080.6,755.5L1081.4,755.0L1082.2,754.4L1083.1,753.8L1083.8,753.2L1084.6,752.6L1085.4,751.9L1086.2,751.3L1086.9,750.6L1087.7,750.0L1088.4,749.3L1089.1,748.6L1089.9,747.9L1090.6,747.2L1091.3,746.5L1092.0,745.8L1092.7,745.1L1093.4,744.4L1094.1,743.6L1094.8,742.9L1095.5,742.2L1096.1,741.5L1096.8,740.8L1097.5,740.0L1098.2,739.3L1098.9,738.6L1099.6,737.9L1100.4,737.2L1101.1,736.5L1101.8,735.8L1102.5,735.1L1103.3,734.5L1104.0,733.8L1104.8,733.2L1105.6,732.6L1106.4,731.9L1107.2,731.4L1108.0,730.8L1108.9,730.3L1109.7,729.7L1110.6,729.2L1111.5,728.8L1112.4,728.4L1113.3,728.0L1114.2,727.6L1115.2,727.3L1116.2,727.0L1117.1,726.8L1118.1,726.5L1119.1,726.4L1120.1,726.2L1121.1,726.1L1122.1,726.0L1123.1,726.0L1124.1,726.0L1125.1,726.0L1126.1,726.0L1127.1,726.1L1128.1,726.3L1129.0,726.4L1130.0,726.7L1131.0,726.9L1131.9,727.2L1132.9,727.5L1133.8,727.9L1134.7,728.3L1135.6,728.7L1136.5,729.2L1137.4,729.7L1138.2,730.2L1139.1,730.8L1139.9,731.4L1140.6,732.0L1141.4,732.6L1142.2,733.3L1142.9,734.0L1143.6,734.7L1144.3,735.4L1145.0,736.1L1145.7,736.9L1146.3,737.6L1147.0,738.4L1147.6,739.2L1148.2,740.0L1148.8,740.8L1149.4,741.6L1150.0,742.4L1150.6,743.2L1151.1,744.0L1151.7,744.9L1152.2,745.7L1152.8,746.5L1153.3,747.4L1153.8,748.2L1154.4,749.1L1154.9,749.9L1155.4,750.8L1155.9,751.7L1156.4,752.5L1156.9,753.4L1157.4,754.2L1157.9,755.1L1158.4,756.0L1158.9,756.8L1159.4,757.7L1159.9,758.6L1160.4,759.5L1160.9,760.3L1161.4,761.2L1161.8,762.1L1162.3,763.0L1162.8,763.9L1163.3,764.7L1163.7,765.6L1164.2,766.5L1164.7,767.4L1165.2,768.3L1165.6,769.2L1166.1,770.0L1166.5,770.9L1167.0,771.8L1167.5,772.7L1167.9,773.6L1168.4,774.5L1168.8,775.4L1169.3,776.3L1169.8,777.2L1170.2,778.0L1170.7,778.9L1171.1,779.8L1171.6,780.7L1172.0,781.6L1172.5,782.5L1172.9,783.4L1173.4,784.3L1173.8,785.2L1174.3,786.1L1174.7,787.0L1175.2,787.9L1175.6,788.8L1176.1,789.7L1176.5,790.6L1177.0,791.4L1177.4,792.3L1177.9,793.2L1178.3,794.1L1178.8,795.0L1179.2,795.9L1179.6,796.8L1180.1,797.7L1180.5,798.6L1181.0,799.5L1181.4,800.4L1181.9,801.3L1182.3,802.2L1182.8,803.1L1183.2,804.0L1183.7,804.9L1184.1,805.8L1184.6,806.7L1185.0,807.6L1185.4,808.5L1185.9,809.4L1186.3,810.3L1186.8,811.1L1187.2,812.0L1187.7,812.9L1188.1,813.8L1188.6,814.7L1189.1,815.6L1189.5,816.5L1190.0,817.4L1190.4,818.3L1190.9,819.2L1191.3,820.1L1191.8,821.0L1192.2,821.8L1192.7,822.7L1193.2,823.6L1193.6,824.5L1194.1,825.4L1194.6,826.3L1195.1,827.1L1195.5,828.0L1196.0,828.9L1196.5,829.8L1197.0,830.6L1197.5,831.5L1198.0,832.4L1198.6,833.2L1199.1,834.1L1199.6,834.9L1200.1,835.8L1200.7,836.6L1201.2,837.4L1201.8,838.3L1202.4,839.1L1202.9,839.9L1203.5,840.7L1204.1,841.5L1204.7,842.3L1205.3,843.1L1206.0,843.9L1206.6,844.7L1207.2,845.4L1207.9,846.2L1208.5,847.0L1209.2,847.7L1209.9,848.5L1210.6,849.2L1211.2,849.9L1212.0,850.6L1212.7,851.3L1213.4,852.0L1214.1,852.7L1214.9,853.3L1215.7,853.9L1216.5,854.6L1217.3,855.2L1218.1,855.7L1218.9,856.3L1219.8,856.8L1220.7,857.2L1221.6,857.7L1222.5,858.1L1223.4,858.4L1224.4,858.7L1225.4,859.0L1226.4,859.1L1227.3,859.3L1228.3,859.3L1229.3,859.3L1230.3,859.3L1231.3,859.2L1232.3,859.0L1233.3,858.8L1234.3,858.6L1235.3,858.3L1236.2,858.0L1237.2,857.7L1238.1,857.4L1239.0,857.0L1239.9,856.6L1240.8,856.2L1241.7,855.7L1242.6,855.3L1243.5,854.8L1244.4,854.3L1245.3,853.8L1246.1,853.3L1247.0,852.8L1247.9,852.3L1248.7,851.8L1249.6,851.3L1250.4,850.8L1251.3,850.2L1252.1,849.7L1253.0,849.1L1253.8,848.6L1254.6,848.1L1255.5,847.5L1256.3,847.0L1257.2,846.5L1258.0,845.9L1258.9,845.4L1259.8,844.9L1260.6,844.4L1261.5,843.9L1262.4,843.5L1263.3,843.0L1264.2,842.6L1265.1,842.1L1266.0,841.8L1266.9,841.4L1267.9,841.1L1268.8,840.8L1269.8,840.5L1270.8,840.3L1271.8,840.1L1272.8,840.0L1273.8,840.0L1274.8,840.0L1275.7,840.1L1276.7,840.2L1277.7,840.4L1278.7,840.6L1279.7,840.9L1280.6,841.2L1281.5,841.6L1282.4,842.0L1283.3,842.5L1284.2,842.9L1285.1,843.4L1285.9,844.0L1286.8,844.5L1287.6,845.1L1288.4,845.7L1289.2,846.3L1290.0,846.9L1290.7,847.6L1291.5,848.3L1292.2,848.9L1292.9,849.6L1293.6,850.3L1294.3,851.0L1295.0,851.8L1295.7,852.5L1296.3,853.3L1297.0,854.0L1297.6,854.8L1298.3,855.6L1298.9,856.4L1299.5,857.2L1300.1,858.0L1300.7,858.8L1301.3,859.6L1301.8,860.4L1302.4,861.2L1302.9,862.1L1303.5,862.9L1304.0,863.8L1304.5,864.6L1305.0,865.5L1305.5,866.4L1306.0,867.2L1306.5,868.1L1306.9,869.0L1307.4,869.9L1307.9,870.8L1308.3,871.7L1308.8,872.6L1309.2,873.5L1309.6,874.4L1310.1,875.3L1310.5,876.2L1310.9,877.1L1311.3,878.0L1311.7,878.9L1312.1,879.8L1312.5,880.7L1313.0,881.7L1313.4,882.6L1313.8,883.5L1314.1,884.4L1314.5,885.3L1314.9,886.2L1315.3,887.2L1315.7,888.1L1316.1,889.0L1316.5,889.9L1316.9,890.9L1317.3,891.8L1317.6,892.7L1318.0,893.6L1318.4,894.6L1318.8,895.5L1319.1,896.4L1319.5,897.3L1319.9,898.3L1320.3,899.2L1320.7,900.1L1321.0,901.0L1321.4,902.0L1321.8,902.9L1322.2,903.8L1322.6,904.7L1322.9,905.7L1323.3,906.6L1323.7,907.5L1324.1,908.4L1324.5,909.4L1324.9,910.3L1325.3,911.2L1325.7,912.1L1326.1,913.0L1326.5,914.0L1326.9,914.9L1327.3,915.8L1327.7,916.7L1328.1,917.6L1328.5,918.5L1328.9,919.5L1329.3,920.4L1329.7,921.3L1330.2,922.2L1330.6,923.1L1331.0,924.0L1331.5,924.9L1331.9,925.8L1332.3,926.7L1332.8,927.6L1333.2,928.5L1333.7,929.3L1334.2,930.2L1334.6,931.1L1335.1,932.0L1335.6,932.9L1336.1,933.8L1336.6,934.6L1337.1,935.5L1337.6,936.4L1338.1,937.2L1338.6,938.1L1339.1,938.9L1339.6,939.8L1340.2,940.6L1340.7,941.5L1341.2,942.3L1341.8,943.2L1342.4,944.0L1342.9,944.8L1343.5,945.6L1344.1,946.4L1344.7,947.2L1345.3,948.0L1345.9,948.8L1346.5,949.6L1347.1,950.4L1347.7,951.2L1348.4,952.0L1349.0,952.7L1349.7,953.5L1350.3,954.3L1351.0,955.0L1351.7,955.7L1352.3,956.5L1353.0,957.2L1353.7,957.9L1354.4,958.6L1355.2,959.3L1355.9,960.0L1356.6,960.7L1357.3,961.4" fill="none" stroke="#0000ff" stroke-width="6" stroke-linejoin="round" stroke-dasharray="6 4.75" clip-path="url(#cb)"/>
<path d="M188.2,815.7L189.0,816.4L189.7,817.0L190.5,817.6L191.4,818.2L192.2,818.6L193.2,819.1L194.1,819.4L195.1,819.7L196.1,819.8L197.1,819.9L198.1,819.8L199.0,819.7L200.0,819.5L201.0,819.2L201.9,818.9L202.8,818.5L203.7,818.0L204.6,817.6L205.5,817.0L206.3,816.5L207.2,816.0L208.0,815.4L208.8,814.8L209.6,814.2L210.4,813.6L211.2,813.0L212.0,812.4L212.8,811.8L213.6,811.2L214.4,810.6L215.2,810.0L216.0,809.4L216.8,808.9L217.7,808.3L218.5,807.7L219.4,807.2L220.2,806.7L221.1,806.2L221.9,805.7L222.8,805.1L223.7,804.6L224.5,804.1L225.4,803.7L226.3,803.2L227.1,802.7L228.0,802.2L228.9,801.7L229.8,801.2L230.6,800.7L231.5,800.2L232.3,799.7L233.2,799.1L234.0,798.6L234.9,798.1L235.7,797.5L236.5,797.0L237.4,796.4L238.2,795.8L239.0,795.2L239.7,794.5L240.5,793.9L241.2,793.2L242.0,792.5L242.7,791.8L243.4,791.1L244.1,790.4L244.7,789.6L245.4,788.9L246.0,788.1L246.6,787.3L247.3,786.5L247.9,785.7L248.4,784.9L249.0,784.1L249.6,783.3L250.2,782.5L250.7,781.6L251.3,780.8L251.8,780.0L252.4,779.1L252.9,778.3L253.5,777.4L254.0,776.6L254.5,775.7L255.1,774.9L255.6,774.1L256.1,773.2L256.7,772.4L257.2,771.5L257.8,770.7L258.3,769.8L258.9,769.0L259.4,768.2L260.0,767.4L260.5,766.5L261.1,765.7L261.7,764.9L262.3,764.1L262.9,763.3L263.5,762.5L264.2,761.7L264.8,761.0L265.5,760.2L266.1,759.5L266.8,758.7L267.5,758.0L268.2,757.3L269.0,756.6L269.7,756.0L270.5,755.3L271.2,754.7L272.0,754.1L272.9,753.5L273.7,752.9L274.5,752.4L275.4,751.9L276.2,751.4L277.1,750.9L278.0,750.4L278.9,750.0L279.8,749.6L280.7,749.2L281.7,748.8L282.6,748.5L283.5,748.1L284.5,747.8L285.5,747.5L286.4,747.3L287.4,747.0L288.4,746.8L289.3,746.6L290.3,746.4L291.3,746.2L292.3,746.0L293.3,745.9L294.3,745.8L295.3,745.7L296.3,745.6L297.3,745.5L298.3,745.4L299.3,745.4L300.3,745.4L301.3,745.4L302.3,745.4L303.3,745.4L304.3,745.5L305.3,745.5L306.3,745.6L307.3,745.7L308.3,745.8L309.3,745.9L310.3,746.0L311.2,746.2L312.2,746.3L313.2,746.5L314.2,746.7L315.2,746.9L316.2,747.1L317.1,747.3L318.1,747.5L319.1,747.8L320.0,748.0L321.0,748.3L322.0,748.6L322.9,748.9L323.9,749.2L324.8,749.5L325.8,749.8L326.7,750.2L327.7,750.5L328.6,750.9L329.5,751.2L330.4,751.6L331.4,752.0L332.3,752.4L333.2,752.9L334.1,753.3L335.0,753.7L335.9,754.2L336.8,754.7L337.6,755.1L338.5,755.6L339.4,756.1L340.3,756.6L341.1,757.1L342.0,757.6L342.8,758.2L343.7,758.7L344.5,759.2L345.4,759.8L346.2,760.3L347.0,760.9L347.8,761.5L348.7,762.0L349.5,762.6L350.3,763.2L351.1,763.8L351.9,764.4L352.7,765.0L353.5,765.6L354.3,766.2L355.1,766.8L355.9,767.4L356.7,768.0L357.5,768.6L358.3,769.2L359.1,769.8L359.9,770.4L360.6,771.1L361.4,771.7L362.2,772.3L363.0,772.9L363.8,773.6L364.6,774.2L365.3,774.8L366.1,775.4L366.9,776.1L367.7,776.7L368.5,777.3L369.3,777.9L370.0,778.5L370.8,779.2L371.6,779.8L372.4,780.4L373.2,781.0L374.0,781.6L374.8,782.3L375.6,782.9L376.3,783.5L377.1,784.1L377.9,784.7L378.7,785.3L379.5,785.9L380.3,786.6L381.1,787.2L381.9,787.8L382.7,788.4L383.5,789.0L384.3,789.6L385.0,790.2L385.8,790.9L386.6,791.5L387.4,792.1L388.2,792.7L389.0,793.3L389.8,793.9L390.6,794.5L391.4,795.1L392.2,795.8L393.0,796.4L393.8,797.0L394.5,797.6L395.3,798.2L396.1,798.8L396.9,799.4L397.7,800.0L398.5,800.7L399.3,801.3L400.1,801.9L400.9,802.5L401.7,803.1L402.4,803.7L403.2,804.3L404.0,805.0L404.8,805.6L405.6,806.2L406.4,806.8L407.2,807.4L408.0,808.0L408.7,808.7L409.5,809.3L410.3,809.9L411.1,810.5L411.9,811.2L412.7,811.8L413.5,812.4L414.2,813.0L415.0,813.7L415.8,814.3L416.6,814.9L417.4,815.5L418.1,816.2L418.9,816.8L419.7,817.4L420.5,818.1L421.2,818.7L422.0,819.3L422.8,820.0L423.6,820.6L424.3,821.2L425.1,821.9L425.9,822.5L426.6,823.2L427.4,823.8L428.2,824.4L428.9,825.1L429.7,825.7L430.5,826.4L431.2,827.0L432.0,827.7L432.8,828.3L433.5,829.0L434.3,829.6L435.0,830.3L435.8,830.9L436.5,831.6L437.3,832.3L438.0,832.9L438.8,833.6L439.5,834.2L440.3,834.9L441.0,835.6L441.8,836.2L442.5,836.9L443.3,837.6L444.0,838.2L444.8,838.9L445.5,839.6L446.3,840.2L447.0,840.9L447.7,841.6L448.5,842.3L449.2,842.9L450.0,843.6L450.7,844.3L451.5,844.9L452.2,845.6L453.0,846.3L453.7,846.9L454.4,847.6L455.2,848.3L455.9,849.0L456.7,849.6L457.4,850.3L458.2,851.0L458.9,851.6L459.6,852.3L460.4,853.0L461.1,853.6L461.9,854.3L462.6,855.0L463.4,855.6L464.1,856.3L464.9,857.0L465.6,857.6L466.4,858.3L467.1,858.9L467.9,859.6L468.6,860.3L469.4,860.9L470.2,861.6L470.9,862.2L471.7,862.9L472.4,863.5L473.2,864.2L474.0,864.8L474.7,865.5L475.5,866.1L476.2,866.8L477.0,867.4L477.8,868.0L478.6,868.7L479.3,869.3L480.1,869.9L480.9,870.6L481.7,871.2L482.4,871.8L483.2,872.5L484.0,873.1L484.8,873.7L485.6,874.3L486.4,874.9L487.2,875.5L488.0,876.1L488.8,876.7L489.6,877.4L490.4,877.9L491.2,878.5L492.0,879.1L492.8,879.7L493.6,880.3L494.4,880.9L495.2,881.5L496.0,882.0L496.9,882.6L497.7,883.2L498.5,883.8L499.4,884.3L500.2,884.9L501.0,885.4L501.9,886.0L502.7,886.5L503.5,887.0L504.4,887.6L505.2,888.1L506.1,888.6L506.9,889.2L507.8,889.7L508.7,890.2L509.5,890.7L510.4,891.2L511.3,891.7L512.1,892.2L513.0,892.6L513.9,893.1L514.8,893.6L515.7,894.1L516.6,894.5L517.4,895.0L518.3,895.4L519.2,895.9L520.1,896.3L521.0,896.7L522.0,897.2L522.9,897.6L523.8,898.0L524.7,898.4L525.6,898.8L526.5,899.2L527.5,899.6L528.4,899.9L529.3,900.3L530.2,900.7L531.2,901.1L532.1,901.4L533.0,901.8L534.0,902.1L534.9,902.4L535.9,902.8L536.8,903.1L537.8,903.4L538.7,903.7L539.7,904.1L540.6,904.4L541.6,904.7L542.5,905.0L543.5,905.2L544.4,905.5L545.4,905.8L546.4,906.1L547.3,906.4L548.3,906.6L549.3,906.9L550.2,907.1L551.2,907.4L552.2,907.6L553.1,907.8L554.1,908.1L555.1,908.3L556.1,908.5L557.0,908.7L558.0,909.0L559.0,909.2L560.0,909.4L561.0,909.6L561.9,909.8L562.9,909.9L563.9,910.1L564.9,910.3L565.9,910.5L566.9,910.6L567.9,910.8L568.8,911.0L569.8,911.1L570.8,911.3L571.8,911.4L572.8,911.6L573.8,911.7L574.8,911.8L575.8,912.0L576.8,912.1L577.8,912.2L578.8,912.3L579.8,912.5L580.8,912.6L581.7,912.7L582.7,912.8L583.7,912.9L584.7,913.0L585.7,913.1L586.7,913.2L587.7,913.2L588.7,913.3L589.7,913.4L590.7,913.5L591.7,913.5L592.7,913.6L593.7,913.7L594.7,913.7L595.7,913.8L596.7,913.8L597.7,913.9L598.7,913.9L599.7,914.0L600.7,914.0L601.7,914.0L602.7,914.1L603.7,914.1L604.7,914.1L605.7,914.1L606.7,914.2L607.7,914.2L608.7,914.2L609.7,914.2L610.7,914.2L611.7,914.2L612.7,914.2L613.7,914.2L614.7,914.2L615.7,914.2L616.7,914.2L617.7,914.2L618.7,914.1L619.7,914.1L620.7,914.1L621.7,914.0L622.7,914.0L623.7,914.0L624.7,913.9L625.7,913.9L626.7,913.8L627.7,913.8L628.7,913.7L629.7,913.6L630.7,913.6L631.7,913.5L632.7,913.4L633.7,913.4L634.7,913.3L635.7,913.2L636.7,913.1L637.7,913.0L638.7,912.9L639.7,912.8L640.7,912.7L641.7,912.6L642.7,912.4L643.7,912.3L644.7,912.2L645.7,912.0L646.6,911.9L647.6,911.8L648.6,911.6L649.6,911.5L650.6,911.3L651.6,911.1L652.6,911.0L653.6,910.8L654.5,910.6L655.5,910.4L656.5,910.3L657.5,910.1L658.5,909.9L659.5,909.7L660.4,909.4L661.4,909.2L662.4,909.0L663.4,908.8L664.3,908.6L665.3,908.3L666.3,908.1L667.3,907.8L668.2,907.6L669.2,907.3L670.2,907.1L671.1,906.8L672.1,906.5L673.0,906.2L674.0,905.9L675.0,905.7L675.9,905.4L676.9,905.0L677.8,904.7L678.8,904.4L679.7,904.1L680.7,903.8L681.6,903.4L682.5,903.1L683.5,902.7L684.4,902.4L685.3,902.0L686.3,901.7L687.2,901.3L688.1,900.9L689.1,900.5L690.0,900.1L690.9,899.7L691.8,899.3L692.7,898.9L693.6,898.5L694.5,898.1L695.4,897.6L696.3,897.2L697.2,896.8L698.1,896.3L699.0,895.9L699.9,895.4L700.8,895.0L701.7,894.5L702.6,894.0L703.5,893.5L704.3,893.1L705.2,892.6L706.1,892.1L707.0,891.6L707.8,891.1L708.7,890.6L709.6,890.1L710.4,889.6L711.3,889.1L712.1,888.6L713.0,888.0L713.8,887.5L714.7,887.0L715.5,886.5L716.4,885.9L717.2,885.4L718.1,884.8L718.9,884.3L719.8,883.8L720.6,883.2L721.4,882.7L722.3,882.1L723.1,881.5L723.9,881.0L724.8,880.4L725.6,879.9L726.4,879.3L727.2,878.7L728.1,878.2L728.9,877.6L729.7,877.0L730.5,876.4L731.3,875.9L732.2,875.3L733.0,874.7L733.8,874.1L734.6,873.5L735.4,873.0L736.2,872.4L737.0,871.8L737.9,871.2L738.7,870.6L739.5,870.0L740.3,869.4L741.1,868.8L741.9,868.3L742.7,867.7L743.5,867.1L744.3,866.5L745.1,865.9L745.9,865.3L746.7,864.7L747.5,864.1L748.4,863.5L749.2,862.9L750.0,862.3L750.8,861.7L751.6,861.1L752.4,860.5L753.2,859.9L754.0,859.4L754.8,858.8L755.6,858.2L756.4,857.6L757.2,857.0L758.0,856.4L758.8,855.8L759.6,855.2L760.4,854.6L761.2,854.0L762.0,853.4L762.8,852.8L763.6,852.2L764.4,851.6L765.2,851.0L766.0,850.4L766.8,849.8L767.6,849.2L768.4,848.6L769.2,848.0L770.0,847.4L770.8,846.8L771.6,846.2L772.4,845.6L773.2,845.0L774.0,844.4L774.8,843.7L775.6,843.1L776.4,842.5L777.2,841.9L778.0,841.3L778.8,840.7L779.6,840.1L780.4,839.5L781.2,838.9L782.0,838.3L782.8,837.7L783.6,837.1L784.4,836.5L785.2,835.9L786.0,835.3L786.8,834.7L787.6,834.1L788.4,833.5L789.2,832.9L790.0,832.2L790.7,831.6L791.5,831.0L792.3,830.4L793.1,829.8L793.9,829.2L794.7,828.6L795.5,828.0L796.3,827.4L797.1,826.8L797.9,826.2L798.7,825.6L799.5,825.0L800.3,824.3L801.1,823.7L801.9,823.1L802.7,822.5L803.5,821.9L804.3,821.3L805.1,820.7L805.9,820.1L806.7,819.5L807.4,818.9L808.2,818.3L809.0,817.7L809.8,817.0L810.6,816.4L811.4,815.8L812.2,815.2L813.0,814.6L813.8,814.0L814.6,813.4L815.4,812.8L816.2,812.2L817.0,811.6L817.8,811.0L818.6,810.4L819.4,809.7L820.2,809.1L821.0,808.5L821.8,807.9L822.5,807.3L823.3,806.7L824.1,806.1L824.9,805.5L825.7,804.9L826.5,804.3L827.3,803.7L828.1,803.1L828.9,802.4L829.7,801.8L830.5,801.2L831.3,800.6L832.1,800.0L832.9,799.4L833.7,798.8L834.5,798.2L835.3,797.6L836.1,797.0L836.9,796.4L837.7,795.8L838.5,795.2L839.3,794.6L840.1,794.0L840.8,793.4L841.6,792.7L842.4,792.1L843.2,791.5L844.0,790.9L844.8,790.3L845.6,789.7L846.4,789.1L847.2,788.5L848.0,787.9L848.8,787.3L849.6,786.7L850.4,786.1L851.2,785.5L852.0,784.9L852.8,784.3L853.6,783.7L854.4,783.1L855.3,782.5L856.1,781.9L856.9,781.3L857.7,780.7L858.5,780.1L859.3,779.5L860.1,779.0L860.9,778.4L861.7,777.8L862.5,777.2L863.3,776.6L864.1,776.0L864.9,775.4L865.7,774.8L866.5,774.2L867.3,773.6L868.2,773.1L869.0,772.5L869.8,771.9L870.6,771.3L871.4,770.7L872.2,770.1L873.0,769.5L873.8,769.0L874.7,768.4L875.5,767.8L876.3,767.2L877.1,766.6L877.9,766.1L878.8,765.5L879.6,764.9L880.4,764.3L881.2,763.8L882.0,763.2L882.9,762.6L883.7,762.1L884.5,761.5L885.3,760.9L886.1,760.4L887.0,759.8L887.8,759.2L888.6,758.7L889.5,758.1L890.3,757.5L891.1,757.0L891.9,756.4L892.8,755.9L893.6,755.3L894.4,754.7L895.3,754.2L896.1,753.6L896.9,753.1L897.8,752.5L898.6,752.0L899.5,751.4L900.3,750.9L901.1,750.3L902.0,749.8L902.8,749.3L903.7,748.7L904.5,748.2L905.3,747.6L906.2,747.1L907.0,746.6L907.9,746.0L908.7,745.5L909.6,745.0L910.4,744.5L911.3,743.9L912.1,743.4L913.0,742.9L913.8,742.4L914.7,741.9L915.6,741.4L916.4,740.8L917.3,740.3L918.2,739.8L919.0,739.3L919.9,738.8L920.8,738.3L921.6,737.8L922.5,737.4L923.4,736.9L924.3,736.4L925.1,735.9L926.0,735.4L926.9,735.0L927.8,734.5L928.7,734.0L929.6,733.6L930.5,733.1L931.4,732.7L932.2,732.2L933.1,731.8L934.0,731.3L934.9,730.9L935.8,730.5L936.8,730.1L937.7,729.6L938.6,729.2L939.5,728.8L940.4,728.4L941.3,728.0L942.2,727.6L943.2,727.2L944.1,726.8L945.0,726.4L945.9,726.1L946.9,725.7L947.8,725.3L948.7,725.0L949.7,724.6L950.6,724.3L951.6,724.0L952.5,723.6L953.4,723.3L954.4,723.0L955.3,722.7L956.3,722.4L957.3,722.1L958.2,721.8L959.2,721.5L960.1,721.2L961.1,721.0L962.1,720.7L963.0,720.4L964.0,720.2L965.0,720.0L966.0,719.7L966.9,719.5L967.9,719.3L968.9,719.1L969.9,718.9L970.8,718.7L971.8,718.5L972.8,718.3L973.8,718.2L974.8,718.0L975.8,717.9L976.8,717.7L977.8,717.6L978.8,717.5L979.8,717.4L980.8,717.3L981.8,717.2L982.7,717.1L983.7,717.0L984.7,717.0L985.7,716.9L986.7,716.8L987.7,716.8L988.7,716.8L989.7,716.7L990.7,716.7L991.7,716.7L992.7,716.7L993.7,716.7L994.7,716.6L995.7,716.6L996.7,716.7L997.8,716.7L998.8,716.7L999.8,716.7L1000.8,716.7L1001.8,716.7L1002.8,716.8L1003.8,716.8L1004.8,716.8L1005.8,716.9L1006.8,716.9L1007.8,717.0L1008.8,717.0L1009.8,717.1L1010.8,717.1L1011.8,717.2L1012.8,717.2L1013.8,717.3L1014.8,717.3L1015.7,717.4L1016.7,717.4L1017.7,717.5L1018.7,717.5L1019.7,717.6L1020.7,717.7L1021.7,717.7L1022.7,717.8L1023.7,717.8L1024.7,717.9L1025.7,717.9L1026.7,718.0L1027.7,718.0L1028.7,718.1L1029.7,718.2L1030.7,718.2L1031.7,718.3L1032.7,718.3L1033.7,718.4L1034.7,718.4L1035.7,718.5L1036.7,718.6L1037.7,718.6L1038.7,718.7L1039.7,718.7L1040.7,718.8L1041.7,718.9L1042.7,719.0L1043.7,719.0L1044.7,719.1L1045.7,719.2L1046.7,719.3L1047.7,719.3L1048.7,719.4L1049.7,719.5L1050.7,719.6L1051.7,719.7L1052.7,719.8L1053.7,719.9L1054.7,720.0L1055.7,720.2L1056.7,720.3L1057.7,720.4L1058.7,720.5L1059.7,720.7L1060.6,720.8L1061.6,721.0L1062.6,721.1L1063.6,721.3L1064.6,721.4L1065.6,721.6L1066.6,721.8L1067.6,721.9L1068.5,722.1L1069.5,722.3L1070.5,722.5L1071.5,722.7L1072.5,722.9L1073.4,723.1L1074.4,723.4L1075.4,723.6L1076.4,723.8L1077.3,724.1L1078.3,724.3L1079.3,724.6L1080.2,724.8L1081.2,725.1L1082.2,725.3L1083.1,725.6L1084.1,725.9L1085.1,726.2L1086.0,726.4L1087.0,726.7L1087.9,727.0L1088.9,727.3L1089.8,727.6L1090.8,727.9L1091.7,728.3L1092.7,728.6L1093.6,728.9L1094.6,729.2L1095.5,729.6L1096.5,729.9L1097.4,730.2L1098.4,730.6L1099.3,730.9L1100.2,731.3L1101.2,731.7L1102.1,732.0L1103.0,732.4L1103.9,732.8L1104.9,733.2L1105.8,733.5L1106.7,733.9L1107.6,734.3L1108.6,734.7L1109.5,735.1L1110.4,735.5L1111.3,735.9L1112.2,736.3L1113.1,736.8L1114.0,737.2L1114.9,737.6L1115.8,738.0L1116.7,738.5L1117.6,738.9L1118.5,739.4L1119.4,739.8L1120.3,740.2L1121.2,740.7L1122.1,741.2L1123.0,741.6L1123.9,742.1L1124.8,742.5L1125.7,743.0L1126.5,743.5L1127.4,744.0L1128.3,744.4L1129.2,744.9L1130.1,745.4L1130.9,745.9L1131.8,746.4L1132.7,746.9L1133.5,747.4L1134.4,747.9L1135.3,748.4L1136.1,748.9L1137.0,749.4L1137.8,750.0L1138.7,750.5L1139.5,751.0L1140.4,751.5L1141.2,752.1L1142.1,752.6L1142.9,753.1L1143.8,753.7L1144.6,754.2L1145.5,754.8L1146.3,755.3L1147.1,755.9L1148.0,756.4L1148.8,757.0L1149.6,757.5L1150.4,758.1L1151.3,758.7L1152.1,759.2L1152.9,759.8L1153.7,760.4L1154.6,760.9L1155.4,761.5L1156.2,762.1L1157.0,762.7L1157.8,763.3L1158.6,763.9L1159.4,764.5L1160.2,765.0L1161.1,765.6L1161.9,766.2L1162.7,766.8L1163.5,767.4L1164.3,768.0L1165.1,768.6L1165.9,769.2L1166.7,769.8L1167.4,770.5L1168.2,771.1L1169.0,771.7L1169.8,772.3L1170.6,772.9L1171.4,773.5L1172.2,774.1L1173.0,774.8L1173.8,775.4L1174.5,776.0L1175.3,776.6L1176.1,777.2L1176.9,777.9L1177.7,778.5L1178.4,779.1L1179.2,779.8L1180.0,780.4L1180.8,781.0L1181.6,781.7L1182.3,782.3L1183.1,782.9L1183.9,783.6L1184.7,784.2L1185.4,784.8L1186.2,785.5L1187.0,786.1L1187.7,786.7L1188.5,787.4L1189.3,788.0L1190.0,788.7L1190.8,789.3L1191.6,789.9L1192.4,790.6L1193.1,791.2L1193.9,791.9L1194.7,792.5L1195.4,793.2L1196.2,793.8L1197.0,794.4L1197.7,795.1L1198.5,795.7L1199.3,796.4L1200.0,797.0L1200.8,797.7L1201.6,798.3L1202.3,798.9L1203.1,799.6L1203.9,800.2L1204.6,800.9L1205.4,801.5L1206.2,802.2L1206.9,802.8L1207.7,803.4L1208.5,804.1L1209.2,804.7L1210.0,805.4L1210.8,806.0L1211.5,806.6L1212.3,807.3L1213.1,807.9L1213.9,808.6L1214.6,809.2L1215.4,809.8L1216.2,810.5L1216.9,811.1L1217.7,811.7L1218.5,812.4L1219.3,813.0L1220.0,813.6L1220.8,814.3L1221.6,814.9L1222.4,815.5L1223.2,816.1L1223.9,816.8L1224.7,817.4L1225.5,818.0L1226.3,818.7L1227.1,819.3L1227.8,819.9L1228.6,820.5L1229.4,821.2L1230.2,821.8L1231.0,822.4L1231.8,823.0L1232.6,823.6L1233.3,824.3L1234.1,824.9L1234.9,825.5L1235.7,826.1L1236.5,826.7L1237.3,827.3L1238.1,828.0L1238.9,828.6L1239.7,829.2L1240.4,829.8L1241.2,830.4L1242.0,831.0L1242.8,831.6L1243.6,832.2L1244.4,832.8L1245.2,833.4L1246.0,834.0L1246.8,834.7L1247.6,835.3L1248.4,835.9L1249.2,836.5L1250.0,837.1L1250.8,837.7L1251.6,838.3L1252.4,838.9L1253.2,839.5L1254.0,840.1L1254.8,840.7L1255.6,841.2L1256.4,841.8L1257.2,842.4L1258.0,843.0L1258.9,843.6L1259.7,844.2L1260.5,844.8L1261.3,845.4L1262.1,846.0L1262.9,846.6L1263.7,847.1L1264.5,847.7L1265.3,848.3L1266.2,848.9L1267.0,849.5L1267.8,850.0L1268.6,850.6L1269.4,851.2L1270.2,851.8L1271.1,852.4L1271.9,852.9L1272.7,853.5L1273.5,854.1L1274.3,854.6L1275.2,855.2L1276.0,855.8L1276.8,856.4L1277.6,856.9L1278.5,857.5L1279.3,858.1L1280.1,858.6L1280.9,859.2L1281.8,859.7L1282.6,860.3L1283.4,860.9L1284.3,861.4L1285.1,862.0L1285.9,862.5L1286.8,863.1L1287.6,863.6L1288.4,864.2L1289.3,864.7L1290.1,865.3L1290.9,865.8L1291.8,866.4L1292.6,866.9L1293.5,867.5L1294.3,868.0L1295.1,868.6L1296.0,869.1L1296.8,869.6L1297.7,870.2L1298.5,870.7L1299.4,871.3L1300.2,871.8L1301.0,872.3L1301.9,872.9L1302.7,873.4L1303.6,873.9L1304.4,874.4L1305.3,875.0L1306.1,875.5L1307.0,876.0L1307.8,876.5L1308.7,877.1L1309.6,877.6L1310.4,878.1L1311.3,878.6L1312.1,879.1L1313.0,879.7L1313.8,880.2L1314.7,880.7L1315.6,881.2L1316.4,881.7L1317.3,882.2L1318.2,882.7L1319.0,883.2L1319.9,883.7L1320.7,884.2L1321.6,884.7L1322.5,885.2L1323.4,885.7L1324.2,886.2L1325.1,886.7L1326.0,887.2L1326.8,887.7L1327.7,888.2L1328.6,888.7L1329.5,889.2L1330.3,889.6L1331.2,890.1L1332.1,890.6L1333.0,891.1L1333.8,891.6L1334.7,892.0L1335.6,892.5L1336.5,893.0L1337.4,893.5L1338.2,893.9L1339.1,894.4L1340.0,894.9L1340.9,895.3L1341.8,895.8L1342.7,896.3L1343.6,896.7L1344.5,897.2L1345.3,897.6L1346.2,898.1L1347.1,898.6L1348.0,899.0L1348.9,899.5L1349.8,899.9L1350.7,900.4L1351.6,900.8L1352.5,901.2L1353.4,901.7L1354.3,902.1L1355.2,902.6L1356.1,903.0" fill="none" stroke="#000000" stroke-width="6" stroke-linejoin="round" stroke-dasharray="22.7 20.5" clip-path="url(#cb)"/>
<rect x="188.5" y="86.5" width="1173.0" height="379.0" fill="none" stroke="#212121" stroke-width="2.8"/>
<path d="M384.00,465.5v-13M384.00,86.5v13M579.50,465.5v-13M579.50,86.5v13M775.00,465.5v-13M775.00,86.5v13M970.50,465.5v-13M970.50,86.5v13M1166.00,465.5v-13M1166.00,86.5v13M188.5,118.50h13M1361.5,118.50h-13M188.5,276.00h13M1361.5,276.00h-13M188.5,433.50h13M1361.5,433.50h-13" stroke="#212121" stroke-width="2.8" fill="none"/>
<rect x="188.5" y="627.5" width="1173.0" height="376.0" fill="none" stroke="#212121" stroke-width="2.8"/>
<path d="M384.00,1003.5v-13M384.00,627.5v13M579.50,1003.5v-13M579.50,627.5v13M775.00,1003.5v-13M775.00,627.5v13M970.50,1003.5v-13M970.50,627.5v13M1166.00,1003.5v-13M1166.00,627.5v13M188.5,815.50h13M1361.5,815.50h-13" stroke="#212121" stroke-width="2.8" fill="none"/>
<text transform="translate(187.40,526.6) scale(0.935,1)" x="-0.00" text-anchor="middle" class="tk">0</text>
<text transform="translate(187.40,1064.2) scale(0.935,1)" x="-0.00" text-anchor="middle" class="tk">0</text>
<text transform="translate(370.45,526.6) scale(0.97,1)" x="-0.00" text-anchor="middle" class="tk">2</text>
<text transform="translate(395.35,526.6) scale(0.935,1)" x="-0.00" text-anchor="middle" class="tk">0</text>
<text transform="translate(370.45,1064.2) scale(0.97,1)" x="-0.00" text-anchor="middle" class="tk">2</text>
<text transform="translate(395.35,1064.2) scale(0.935,1)" x="-0.00" text-anchor="middle" class="tk">0</text>
<text transform="translate(565.95,526.6) scale(0.935,1)" x="0.14" text-anchor="middle" class="tk">4</text>
<text transform="translate(590.85,526.6) scale(0.935,1)" x="-0.00" text-anchor="middle" class="tk">0</text>
<text transform="translate(565.95,1064.2) scale(0.935,1)" x="0.14" text-anchor="middle" class="tk">4</text>
<text transform="translate(590.85,1064.2) scale(0.935,1)" x="-0.00" text-anchor="middle" class="tk">0</text>
<text transform="translate(761.45,526.6) scale(0.935,1)" x="-0.15" text-anchor="middle" class="tk">6</text>
<text transform="translate(786.35,526.6) scale(0.935,1)" x="-0.00" text-anchor="middle" class="tk">0</text>
<text transform="translate(761.45,1064.2) scale(0.935,1)" x="-0.15" text-anchor="middle" class="tk">6</text>
<text transform="translate(786.35,1064.2) scale(0.935,1)" x="-0.00" text-anchor="middle" class="tk">0</text>
<text transform="translate(956.95,526.6) scale(0.935,1)" x="-0.00" text-anchor="middle" class="tk">8</text>
<text transform="translate(981.85,526.6) scale(0.935,1)" x="-0.00" text-anchor="middle" class="tk">0</text>
<text transform="translate(956.95,1064.2) scale(0.935,1)" x="-0.00" text-anchor="middle" class="tk">8</text>
<text transform="translate(981.85,1064.2) scale(0.935,1)" x="-0.00" text-anchor="middle" class="tk">0</text>
<path d="M1145.35,495.00L1145.35,526.60L1141.65,526.60L1141.65,501.60L1134.35,506.60L1134.35,503.00L1142.15,495.00Z" fill="#212121"/>
<text transform="translate(1164.90,526.6) scale(0.935,1)" x="-0.00" text-anchor="middle" class="tk">0</text>
<text transform="translate(1189.80,526.6) scale(0.935,1)" x="-0.00" text-anchor="middle" class="tk">0</text>
<path d="M1145.35,1032.60L1145.35,1064.20L1141.65,1064.20L1141.65,1039.20L1134.35,1044.20L1134.35,1040.60L1142.15,1032.60Z" fill="#212121"/>
<text transform="translate(1164.90,1064.2) scale(0.935,1)" x="-0.00" text-anchor="middle" class="tk">0</text>
<text transform="translate(1189.80,1064.2) scale(0.935,1)" x="-0.00" text-anchor="middle" class="tk">0</text>
<path d="M1340.85,495.00L1340.85,526.60L1337.15,526.60L1337.15,501.60L1329.85,506.60L1329.85,503.00L1337.65,495.00Z" fill="#212121"/>
<text transform="translate(1360.40,526.6) scale(0.97,1)" x="-0.00" text-anchor="middle" class="tk">2</text>
<text transform="translate(1385.30,526.6) scale(0.935,1)" x="-0.00" text-anchor="middle" class="tk">0</text>
<path d="M1340.85,1032.60L1340.85,1064.20L1337.15,1064.20L1337.15,1039.20L1329.85,1044.20L1329.85,1040.60L1337.65,1032.60Z" fill="#212121"/>
<text transform="translate(1360.40,1064.2) scale(0.97,1)" x="-0.00" text-anchor="middle" class="tk">2</text>
<text transform="translate(1385.30,1064.2) scale(0.935,1)" x="-0.00" text-anchor="middle" class="tk">0</text>
<text transform="translate(134.20,135.4) scale(0.97,1)" x="-0.00" text-anchor="middle" class="tk">2</text>
<text transform="translate(160.20,135.4) scale(0.935,1)" x="-0.00" text-anchor="middle" class="tk">0</text>
<text transform="translate(160.20,292.4) scale(0.935,1)" x="-0.00" text-anchor="middle" class="tk">0</text>
<text transform="translate(134.20,449.4) scale(0.97,1)" x="-0.00" text-anchor="middle" class="tk">2</text>
<text transform="translate(160.20,449.4) scale(0.935,1)" x="-0.00" text-anchor="middle" class="tk">0</text>
<rect x="90" y="433.2" width="21" height="2.6" fill="#212121"/>
<text transform="translate(134.20,644.7) scale(0.935,1)" x="0.04" text-anchor="middle" class="tk">5</text>
<text transform="translate(160.20,644.7) scale(0.935,1)" x="-0.00" text-anchor="middle" class="tk">0</text>
<text transform="translate(160.20,832.2) scale(0.935,1)" x="-0.00" text-anchor="middle" class="tk">0</text>
<text transform="translate(134.20,1020.3) scale(0.935,1)" x="0.04" text-anchor="middle" class="tk">5</text>
<text transform="translate(160.20,1020.3) scale(0.935,1)" x="-0.00" text-anchor="middle" class="tk">0</text>
<rect x="90" y="1004.1" width="21" height="2.6" fill="#212121"/>
<text x="709.7" y="1128" class="lab">time <tspan font-size="52">/</tspan><tspan dx="-1.1">s</tspan></text>
<g transform="translate(66.2,276) rotate(-90)" fill="#212121" font-family="&quot;Liberation Serif&quot;, serif"><text transform="translate(-36.3,0) skewX(-13) scale(1,1.0)" font-size="48" font-style="italic">&#x3D5;</text><text x="6.2" y="0" font-size="52">/</text><text x="19.45" y="-3.4" font-size="45">&#xB0;</text></g>
<g transform="translate(66.2,815.7) rotate(-90)" fill="#212121" font-family="&quot;Liberation Serif&quot;, serif"><text transform="translate(-41.6,0) skewX(-14) scale(1,1.08)" font-size="48" font-style="italic">&#x3C8;</text><text x="6.2" y="0" font-size="52">/</text><text x="19.45" y="-3.4" font-size="45">&#xB0;</text></g>
<path d="M247,53H356" stroke="#ff0000" stroke-width="6"/>
<path d="M610,52.85H716" stroke="#0000ff" stroke-width="6" stroke-dasharray="6 4.8"/>
<path d="M972,52.85H1084" stroke="#000" stroke-width="6" stroke-dasharray="22.5 20.5"/>
<text x="362.15" y="78" class="leg" textLength="221.29" lengthAdjust="spacingAndGlyphs">Method 1</text>
<text x="723.93" y="78" class="leg" textLength="223.87" lengthAdjust="spacingAndGlyphs">Method 2</text>
<text x="1086.53" y="78" class="leg" textLength="218.11" lengthAdjust="spacingAndGlyphs">reference</text>
</svg></body></html>
